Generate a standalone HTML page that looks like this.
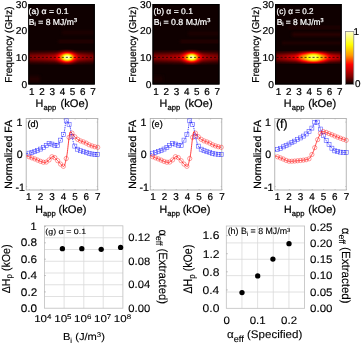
<!DOCTYPE html>
<html><head><meta charset="utf-8"><style>
html,body{margin:0;padding:0;background:#fff;width:361px;height:344px;overflow:hidden;}
svg{display:block;will-change:transform;font-family:"Liberation Sans", sans-serif;}
</style></head><body>
<svg xmlns="http://www.w3.org/2000/svg" width="361" height="344" viewBox="0 0 361 344" font-family="Liberation Sans, sans-serif" text-rendering="geometricPrecision">
<defs><filter id="hotmap" x="0" y="0" width="1" height="1" color-interpolation-filters="sRGB"><feComponentTransfer><feFuncR type="table" tableValues="0 0.333 0.667 1 1 1 1 1 1"/><feFuncG type="table" tableValues="0 0 0 0 0.333 0.667 1 1 1"/><feFuncB type="table" tableValues="0 0 0 0 0 0 0 0.5 1"/></feComponentTransfer></filter>
<filter id="bl1_2" x="-50%" y="-50%" width="200%" height="200%" color-interpolation-filters="sRGB"><feGaussianBlur stdDeviation="1.2"/></filter>
<filter id="bl1_6" x="-50%" y="-50%" width="200%" height="200%" color-interpolation-filters="sRGB"><feGaussianBlur stdDeviation="1.6"/></filter>
<filter id="bl2_0" x="-50%" y="-50%" width="200%" height="200%" color-interpolation-filters="sRGB"><feGaussianBlur stdDeviation="2.0"/></filter>
<filter id="bl2_4" x="-50%" y="-50%" width="200%" height="200%" color-interpolation-filters="sRGB"><feGaussianBlur stdDeviation="2.4"/></filter>
<filter id="bl2_8" x="-50%" y="-50%" width="200%" height="200%" color-interpolation-filters="sRGB"><feGaussianBlur stdDeviation="2.8"/></filter>
<filter id="bl3_5" x="-50%" y="-50%" width="200%" height="200%" color-interpolation-filters="sRGB"><feGaussianBlur stdDeviation="3.5"/></filter>
<linearGradient id="bg0" gradientUnits="userSpaceOnUse" x1="28.3" y1="0" x2="94.8" y2="0"><stop offset="0.000" stop-color="rgb(59,59,59)"/><stop offset="0.250" stop-color="rgb(71,71,71)"/><stop offset="0.400" stop-color="rgb(84,84,84)"/><stop offset="0.500" stop-color="rgb(107,107,107)"/><stop offset="0.580" stop-color="rgb(140,140,140)"/><stop offset="0.660" stop-color="rgb(115,115,115)"/><stop offset="0.750" stop-color="rgb(84,84,84)"/><stop offset="0.850" stop-color="rgb(69,69,69)"/><stop offset="1.000" stop-color="rgb(56,56,56)"/></linearGradient>
<clipPath id="cl0"><rect x="28.3" y="4.0" width="66.50" height="80.5"/></clipPath>
<linearGradient id="bg1" gradientUnits="userSpaceOnUse" x1="152.5" y1="0" x2="219.5" y2="0"><stop offset="0.000" stop-color="rgb(59,59,59)"/><stop offset="0.250" stop-color="rgb(71,71,71)"/><stop offset="0.400" stop-color="rgb(84,84,84)"/><stop offset="0.500" stop-color="rgb(107,107,107)"/><stop offset="0.580" stop-color="rgb(140,140,140)"/><stop offset="0.660" stop-color="rgb(115,115,115)"/><stop offset="0.750" stop-color="rgb(84,84,84)"/><stop offset="0.850" stop-color="rgb(69,69,69)"/><stop offset="1.000" stop-color="rgb(56,56,56)"/></linearGradient>
<clipPath id="cl1"><rect x="152.5" y="4.0" width="67.00" height="80.5"/></clipPath>
<linearGradient id="bg2" gradientUnits="userSpaceOnUse" x1="275.0" y1="0" x2="341.7" y2="0"><stop offset="0.000" stop-color="rgb(64,64,64)"/><stop offset="0.150" stop-color="rgb(84,84,84)"/><stop offset="0.300" stop-color="rgb(115,115,115)"/><stop offset="0.450" stop-color="rgb(153,153,153)"/><stop offset="0.580" stop-color="rgb(178,178,178)"/><stop offset="0.700" stop-color="rgb(153,153,153)"/><stop offset="0.850" stop-color="rgb(107,107,107)"/><stop offset="1.000" stop-color="rgb(84,84,84)"/></linearGradient>
<clipPath id="cl2"><rect x="275.0" y="4.0" width="66.70" height="80.5"/></clipPath>
<linearGradient id="cbar" x1="0" y1="0" x2="0" y2="1">
<stop offset="0" stop-color="#ffffd0"/>
<stop offset="0.25" stop-color="#ffff00"/>
<stop offset="0.45" stop-color="#ff9a00"/>
<stop offset="0.625" stop-color="#ff0000"/>
<stop offset="0.85" stop-color="#800000"/>
<stop offset="1" stop-color="#000000"/>
</linearGradient></defs>
<rect width="361" height="344" fill="#fff"/>
<g clip-path="url(#cl0)"><g filter="url(#hotmap)">
<rect x="18.3" y="-6.0" width="86.50" height="100.5" fill="rgb(6,6,6)"/>
<rect x="62" y="31.0" width="38" height="3" fill="rgb(13,13,13)" filter="url(#bl1_6)"/>
<rect x="58" y="40.25" width="42" height="2.5" fill="rgb(18,18,18)" filter="url(#bl1_6)"/>
<rect x="24" y="76.0" width="16" height="6" fill="rgb(13,13,13)" filter="url(#bl1_6)"/>
<rect x="25.3" y="53.87" width="72.50" height="7.0" fill="url(#bg0)" filter="url(#bl2_4)"/>
<ellipse cx="66.8" cy="57.37" rx="8.2" ry="3.8" fill="rgb(173,173,173)" filter="url(#bl2_4)"/>
<ellipse cx="67.3" cy="57.37" rx="4.3" ry="2.6" fill="rgb(247,247,247)" filter="url(#bl1_6)"/>
</g></g>
<line x1="29.8" y1="57.37" x2="94.3" y2="57.37" stroke="#000" stroke-width="0.7" stroke-dasharray="2.1 1.9"/>
<rect x="28.900000000000002" y="4.6" width="65.30" height="79.30" fill="none" stroke="#000" stroke-width="1.2"/>
<g clip-path="url(#cl1)"><g filter="url(#hotmap)">
<rect x="142.5" y="-6.0" width="87.00" height="100.5" fill="rgb(6,6,6)"/>
<rect x="188" y="32.0" width="37" height="3" fill="rgb(13,13,13)" filter="url(#bl1_6)"/>
<rect x="180" y="40.25" width="45" height="2.5" fill="rgb(18,18,18)" filter="url(#bl1_6)"/>
<rect x="149" y="76.0" width="14" height="6" fill="rgb(10,10,10)" filter="url(#bl1_6)"/>
<rect x="149.5" y="53.87" width="73.00" height="7.0" fill="url(#bg1)" filter="url(#bl2_4)"/>
<ellipse cx="191.3" cy="57.37" rx="7.8" ry="3.7" fill="rgb(173,173,173)" filter="url(#bl2_4)"/>
<ellipse cx="191.8" cy="57.37" rx="4.0" ry="2.5" fill="rgb(247,247,247)" filter="url(#bl1_6)"/>
</g></g>
<line x1="154.0" y1="57.37" x2="219.0" y2="57.37" stroke="#000" stroke-width="0.7" stroke-dasharray="2.1 1.9"/>
<rect x="153.1" y="4.6" width="65.80" height="79.30" fill="none" stroke="#000" stroke-width="1.2"/>
<g clip-path="url(#cl2)"><g filter="url(#hotmap)">
<rect x="265.0" y="-6.0" width="86.70" height="100.5" fill="rgb(6,6,6)"/>
<rect x="288" y="26.4" width="58" height="2.2" fill="rgb(15,15,15)" filter="url(#bl1_6)"/>
<rect x="292" y="33.1" width="54" height="2.8" fill="rgb(20,20,20)" filter="url(#bl1_6)"/>
<rect x="282" y="41.9" width="64" height="2.2" fill="rgb(18,18,18)" filter="url(#bl1_6)"/>
<rect x="272.0" y="54.37" width="72.70" height="6.0" fill="url(#bg2)" filter="url(#bl2_4)"/>
<ellipse cx="313.0" cy="57.37" rx="14.0" ry="3.2" fill="rgb(184,184,184)" filter="url(#bl2_4)"/>
<ellipse cx="313.5" cy="57.37" rx="6.5" ry="2.5" fill="rgb(235,235,235)" filter="url(#bl2_0)"/>
</g></g>
<line x1="276.5" y1="57.37" x2="341.2" y2="57.37" stroke="#000" stroke-width="0.7" stroke-dasharray="2.1 1.9"/>
<rect x="275.6" y="4.6" width="65.50" height="79.30" fill="none" stroke="#000" stroke-width="1.2"/>
<rect x="345.4" y="31.4" width="8.4" height="53.0" fill="url(#cbar)" stroke="#8a8a8a" stroke-width="0.8"/>
<rect x="26.2" y="118.5" width="71.5" height="71.5" fill="#fff" stroke="#b0b0b0" stroke-width="0.9"/>
<line x1="29.30" y1="190.0" x2="29.30" y2="189.0" stroke="#aaa" stroke-width="0.6"/>
<line x1="29.30" y1="118.5" x2="29.30" y2="119.5" stroke="#aaa" stroke-width="0.6"/>
<line x1="40.75" y1="190.0" x2="40.75" y2="189.0" stroke="#aaa" stroke-width="0.6"/>
<line x1="40.75" y1="118.5" x2="40.75" y2="119.5" stroke="#aaa" stroke-width="0.6"/>
<line x1="52.20" y1="190.0" x2="52.20" y2="189.0" stroke="#aaa" stroke-width="0.6"/>
<line x1="52.20" y1="118.5" x2="52.20" y2="119.5" stroke="#aaa" stroke-width="0.6"/>
<line x1="63.65" y1="190.0" x2="63.65" y2="189.0" stroke="#aaa" stroke-width="0.6"/>
<line x1="63.65" y1="118.5" x2="63.65" y2="119.5" stroke="#aaa" stroke-width="0.6"/>
<line x1="75.10" y1="190.0" x2="75.10" y2="189.0" stroke="#aaa" stroke-width="0.6"/>
<line x1="75.10" y1="118.5" x2="75.10" y2="119.5" stroke="#aaa" stroke-width="0.6"/>
<line x1="86.55" y1="190.0" x2="86.55" y2="189.0" stroke="#aaa" stroke-width="0.6"/>
<line x1="86.55" y1="118.5" x2="86.55" y2="119.5" stroke="#aaa" stroke-width="0.6"/>
<line x1="98.00" y1="190.0" x2="98.00" y2="189.0" stroke="#aaa" stroke-width="0.6"/>
<line x1="98.00" y1="118.5" x2="98.00" y2="119.5" stroke="#aaa" stroke-width="0.6"/>
<line x1="26.2" y1="122.10" x2="27.2" y2="122.10" stroke="#aaa" stroke-width="0.6"/>
<line x1="97.7" y1="122.10" x2="96.7" y2="122.10" stroke="#aaa" stroke-width="0.6"/>
<line x1="26.2" y1="154.30" x2="27.2" y2="154.30" stroke="#aaa" stroke-width="0.6"/>
<line x1="97.7" y1="154.30" x2="96.7" y2="154.30" stroke="#aaa" stroke-width="0.6"/>
<line x1="26.2" y1="186.50" x2="27.2" y2="186.50" stroke="#aaa" stroke-width="0.6"/>
<line x1="97.7" y1="186.50" x2="96.7" y2="186.50" stroke="#aaa" stroke-width="0.6"/>
<path d="M26.50,153.60 L26.74,153.57 L26.98,153.53 L27.21,153.50 L27.45,153.46 L27.69,153.42 L27.93,153.38 L28.17,153.33 L28.41,153.29 L28.64,153.24 L28.88,153.19 L29.12,153.14 L29.36,153.09 L29.60,153.04 L29.83,152.98 L30.07,152.93 L30.31,152.87 L30.55,152.81 L30.79,152.75 L31.02,152.69 L31.26,152.63 L31.50,152.56 L31.74,152.50 L31.98,152.43 L32.22,152.36 L32.45,152.29 L32.69,152.22 L32.93,152.15 L33.17,152.08 L33.41,152.01 L33.64,151.93 L33.88,151.86 L34.12,151.78 L34.36,151.71 L34.60,151.63 L34.83,151.55 L35.07,151.48 L35.31,151.40 L35.55,151.31 L35.79,151.23 L36.03,151.14 L36.26,151.05 L36.50,150.96 L36.74,150.86 L36.98,150.76 L37.22,150.66 L37.45,150.56 L37.69,150.46 L37.93,150.35 L38.17,150.24 L38.41,150.13 L38.64,150.02 L38.88,149.91 L39.12,149.79 L39.36,149.67 L39.60,149.56 L39.84,149.43 L40.07,149.31 L40.31,149.19 L40.55,149.06 L40.79,148.93 L41.03,148.81 L41.26,148.68 L41.50,148.54 L41.74,148.41 L41.98,148.28 L42.22,148.14 L42.45,148.01 L42.69,147.87 L42.93,147.73 L43.17,147.59 L43.41,147.45 L43.65,147.31 L43.88,147.17 L44.12,147.03 L44.36,146.89 L44.60,146.74 L44.84,146.60 L45.07,146.45 L45.31,146.29 L45.55,146.11 L45.79,145.91 L46.03,145.69 L46.26,145.47 L46.50,145.24 L46.74,145.01 L46.98,144.78 L47.22,144.55 L47.46,144.33 L47.69,144.12 L47.93,143.93 L48.17,143.76 L48.41,143.61 L48.65,143.48 L48.88,143.39 L49.12,143.33 L49.36,143.30 L49.60,143.31 L49.84,143.33 L50.07,143.38 L50.31,143.44 L50.55,143.51 L50.79,143.59 L51.03,143.68 L51.27,143.78 L51.50,143.88 L51.74,143.99 L51.98,144.09 L52.22,144.20 L52.46,144.30 L52.69,144.39 L52.93,144.48 L53.17,144.56 L53.41,144.65 L53.65,144.74 L53.88,144.84 L54.12,144.94 L54.36,145.04 L54.60,145.15 L54.84,145.25 L55.08,145.34 L55.31,145.44 L55.55,145.52 L55.79,145.60 L56.03,145.67 L56.27,145.72 L56.50,145.76 L56.74,145.79 L56.98,145.80 L57.22,145.75 L57.46,145.60 L57.69,145.36 L57.93,145.05 L58.17,144.67 L58.41,144.24 L58.65,143.77 L58.89,143.27 L59.12,142.76 L59.36,142.26 L59.60,141.76 L59.84,141.30 L60.08,140.87 L60.31,140.46 L60.55,140.06 L60.79,139.67 L61.03,139.27 L61.27,138.88 L61.50,138.48 L61.74,138.07 L61.98,137.65 L62.22,137.21 L62.46,136.75 L62.70,136.26 L62.93,135.75 L63.17,135.20 L63.41,134.62 L63.65,134.00 L63.89,133.34 L64.12,132.49 L64.36,131.33 L64.60,129.95 L64.84,128.42 L65.08,126.83 L65.31,125.26 L65.55,123.79 L65.79,122.51 L66.03,121.50 L66.27,120.83 L66.51,120.60 L66.74,120.64 L66.98,120.77 L67.22,120.96 L67.46,121.22 L67.70,121.55 L67.93,121.93 L68.17,122.35 L68.41,122.82 L68.65,123.33 L68.89,123.87 L69.12,124.43 L69.36,125.01 L69.60,125.60 L69.84,126.20 L70.08,126.95 L70.32,127.90 L70.55,129.00 L70.79,130.22 L71.03,131.52 L71.27,132.86 L71.51,134.19 L71.74,135.48 L71.98,136.69 L72.22,137.78 L72.46,138.72 L72.70,139.61 L72.93,140.49 L73.17,141.36 L73.41,142.21 L73.65,143.02 L73.89,143.78 L74.13,144.49 L74.36,145.12 L74.60,145.68 L74.84,146.14 L75.08,146.51 L75.32,146.84 L75.55,147.15 L75.79,147.44 L76.03,147.71 L76.27,147.96 L76.51,148.20 L76.74,148.43 L76.98,148.64 L77.22,148.84 L77.46,149.03 L77.70,149.20 L77.94,149.37 L78.17,149.52 L78.41,149.67 L78.65,149.81 L78.89,149.94 L79.13,150.07 L79.36,150.19 L79.60,150.31 L79.84,150.42 L80.08,150.53 L80.32,150.64 L80.55,150.74 L80.79,150.84 L81.03,150.93 L81.27,151.02 L81.51,151.11 L81.75,151.20 L81.98,151.28 L82.22,151.37 L82.46,151.45 L82.70,151.52 L82.94,151.60 L83.17,151.67 L83.41,151.75 L83.65,151.82 L83.89,151.89 L84.13,151.96 L84.36,152.03 L84.60,152.10 L84.84,152.17 L85.08,152.23 L85.32,152.30 L85.56,152.37 L85.79,152.44 L86.03,152.51 L86.27,152.58 L86.51,152.65 L86.75,152.72 L86.98,152.79 L87.22,152.86 L87.46,152.92 L87.70,152.99 L87.94,153.06 L88.17,153.12 L88.41,153.19 L88.65,153.25 L88.89,153.32 L89.13,153.38 L89.37,153.44 L89.60,153.50 L89.84,153.56 L90.08,153.61 L90.32,153.67 L90.56,153.72 L90.79,153.77 L91.03,153.82 L91.27,153.87 L91.51,153.91 L91.75,153.96 L91.98,154.00 L92.22,154.04 L92.46,154.07 L92.70,154.11 L92.94,154.15 L93.18,154.19 L93.41,154.22 L93.65,154.26 L93.89,154.29 L94.13,154.33 L94.37,154.36 L94.60,154.39 L94.84,154.42 L95.08,154.45 L95.32,154.48 L95.56,154.51 L95.79,154.54 L96.03,154.56 L96.27,154.59 L96.51,154.61 L96.75,154.63 L96.99,154.65 L97.22,154.67 L97.46,154.68 L97.70,154.70" fill="none" stroke="#0000ff" stroke-width="0.75" stroke-dasharray="1.4 0.9"/>
<rect x="27.06" y="151.16" width="4.0" height="4.0" fill="none" stroke="#0000ff" stroke-width="0.55" stroke-opacity="0.7"/>
<rect x="29.92" y="150.44" width="4.0" height="4.0" fill="none" stroke="#0000ff" stroke-width="0.55" stroke-opacity="0.7"/>
<rect x="32.78" y="149.57" width="4.0" height="4.0" fill="none" stroke="#0000ff" stroke-width="0.55" stroke-opacity="0.7"/>
<rect x="35.64" y="148.48" width="4.0" height="4.0" fill="none" stroke="#0000ff" stroke-width="0.55" stroke-opacity="0.7"/>
<rect x="38.50" y="147.09" width="4.0" height="4.0" fill="none" stroke="#0000ff" stroke-width="0.55" stroke-opacity="0.7"/>
<rect x="41.36" y="145.48" width="4.0" height="4.0" fill="none" stroke="#0000ff" stroke-width="0.55" stroke-opacity="0.7"/>
<rect x="44.22" y="143.51" width="4.0" height="4.0" fill="none" stroke="#0000ff" stroke-width="0.55" stroke-opacity="0.7"/>
<rect x="47.08" y="141.34" width="4.0" height="4.0" fill="none" stroke="#0000ff" stroke-width="0.55" stroke-opacity="0.7"/>
<rect x="49.94" y="142.08" width="4.0" height="4.0" fill="none" stroke="#0000ff" stroke-width="0.55" stroke-opacity="0.7"/>
<rect x="52.80" y="143.23" width="4.0" height="4.0" fill="none" stroke="#0000ff" stroke-width="0.55" stroke-opacity="0.7"/>
<rect x="55.66" y="143.40" width="4.0" height="4.0" fill="none" stroke="#0000ff" stroke-width="0.55" stroke-opacity="0.7"/>
<rect x="58.52" y="138.11" width="4.0" height="4.0" fill="none" stroke="#0000ff" stroke-width="0.55" stroke-opacity="0.7"/>
<rect x="61.38" y="132.70" width="4.0" height="4.0" fill="none" stroke="#0000ff" stroke-width="0.55" stroke-opacity="0.7"/>
<rect x="64.24" y="118.89" width="4.0" height="4.0" fill="none" stroke="#0000ff" stroke-width="0.55" stroke-opacity="0.7"/>
<rect x="67.10" y="122.37" width="4.0" height="4.0" fill="none" stroke="#0000ff" stroke-width="0.55" stroke-opacity="0.7"/>
<rect x="69.96" y="134.58" width="4.0" height="4.0" fill="none" stroke="#0000ff" stroke-width="0.55" stroke-opacity="0.7"/>
<rect x="72.82" y="144.11" width="4.0" height="4.0" fill="none" stroke="#0000ff" stroke-width="0.55" stroke-opacity="0.7"/>
<rect x="75.68" y="147.19" width="4.0" height="4.0" fill="none" stroke="#0000ff" stroke-width="0.55" stroke-opacity="0.7"/>
<rect x="78.54" y="148.73" width="4.0" height="4.0" fill="none" stroke="#0000ff" stroke-width="0.55" stroke-opacity="0.7"/>
<rect x="81.40" y="149.74" width="4.0" height="4.0" fill="none" stroke="#0000ff" stroke-width="0.55" stroke-opacity="0.7"/>
<rect x="84.26" y="150.58" width="4.0" height="4.0" fill="none" stroke="#0000ff" stroke-width="0.55" stroke-opacity="0.7"/>
<rect x="87.12" y="151.38" width="4.0" height="4.0" fill="none" stroke="#0000ff" stroke-width="0.55" stroke-opacity="0.7"/>
<rect x="89.98" y="152.00" width="4.0" height="4.0" fill="none" stroke="#0000ff" stroke-width="0.55" stroke-opacity="0.7"/>
<rect x="92.84" y="152.42" width="4.0" height="4.0" fill="none" stroke="#0000ff" stroke-width="0.55" stroke-opacity="0.7"/>
<rect x="95.70" y="152.70" width="4.0" height="4.0" fill="none" stroke="#0000ff" stroke-width="0.55" stroke-opacity="0.7"/>
<path d="M26.50,155.80 L26.74,155.89 L26.98,155.99 L27.21,156.08 L27.45,156.17 L27.69,156.27 L27.93,156.36 L28.17,156.45 L28.41,156.54 L28.64,156.63 L28.88,156.73 L29.12,156.82 L29.36,156.91 L29.60,157.00 L29.83,157.09 L30.07,157.18 L30.31,157.27 L30.55,157.36 L30.79,157.45 L31.02,157.54 L31.26,157.63 L31.50,157.72 L31.74,157.81 L31.98,157.90 L32.22,157.99 L32.45,158.07 L32.69,158.16 L32.93,158.25 L33.17,158.34 L33.41,158.42 L33.64,158.51 L33.88,158.60 L34.12,158.68 L34.36,158.77 L34.60,158.86 L34.83,158.94 L35.07,159.03 L35.31,159.11 L35.55,159.21 L35.79,159.30 L36.03,159.40 L36.26,159.49 L36.50,159.59 L36.74,159.70 L36.98,159.80 L37.22,159.91 L37.45,160.01 L37.69,160.12 L37.93,160.23 L38.17,160.34 L38.41,160.44 L38.64,160.55 L38.88,160.66 L39.12,160.77 L39.36,160.87 L39.60,160.98 L39.84,161.08 L40.07,161.18 L40.31,161.28 L40.55,161.37 L40.79,161.47 L41.03,161.56 L41.26,161.64 L41.50,161.73 L41.74,161.81 L41.98,161.88 L42.22,161.96 L42.45,162.02 L42.69,162.09 L42.93,162.15 L43.17,162.20 L43.41,162.24 L43.65,162.29 L43.88,162.32 L44.12,162.35 L44.36,162.37 L44.60,162.39 L44.84,162.40 L45.07,162.40 L45.31,162.38 L45.55,162.32 L45.79,162.25 L46.03,162.15 L46.26,162.04 L46.50,161.90 L46.74,161.75 L46.98,161.59 L47.22,161.41 L47.46,161.23 L47.69,161.04 L47.93,160.85 L48.17,160.66 L48.41,160.46 L48.65,160.27 L48.88,160.09 L49.12,159.90 L49.36,159.69 L49.60,159.43 L49.84,159.16 L50.07,158.86 L50.31,158.56 L50.55,158.24 L50.79,157.93 L51.03,157.63 L51.27,157.35 L51.50,157.09 L51.74,156.86 L51.98,156.67 L52.22,156.53 L52.46,156.43 L52.69,156.40 L52.93,156.42 L53.17,156.48 L53.41,156.57 L53.65,156.69 L53.88,156.84 L54.12,157.02 L54.36,157.22 L54.60,157.44 L54.84,157.67 L55.08,157.92 L55.31,158.17 L55.55,158.44 L55.79,158.70 L56.03,158.97 L56.27,159.24 L56.50,159.49 L56.74,159.74 L56.98,159.98 L57.22,160.22 L57.46,160.47 L57.69,160.73 L57.93,161.01 L58.17,161.29 L58.41,161.58 L58.65,161.88 L58.89,162.17 L59.12,162.47 L59.36,162.76 L59.60,163.04 L59.84,163.32 L60.08,163.59 L60.31,163.85 L60.55,164.09 L60.79,164.32 L61.03,164.52 L61.27,164.73 L61.50,164.95 L61.74,165.16 L61.98,165.38 L62.22,165.59 L62.46,165.79 L62.70,165.97 L62.93,166.12 L63.17,166.25 L63.41,166.34 L63.65,166.39 L63.89,166.38 L64.12,166.19 L64.36,165.80 L64.60,165.24 L64.84,164.52 L65.08,163.67 L65.31,162.72 L65.55,161.70 L65.79,160.62 L66.03,159.52 L66.27,158.41 L66.51,157.32 L66.74,156.21 L66.98,154.83 L67.22,153.21 L67.46,151.39 L67.70,149.42 L67.93,147.34 L68.17,145.22 L68.41,143.10 L68.65,141.02 L68.89,139.04 L69.12,137.20 L69.36,135.56 L69.60,134.17 L69.84,133.06 L70.08,132.30 L70.32,131.93 L70.55,131.92 L70.79,132.00 L71.03,132.14 L71.27,132.35 L71.51,132.60 L71.74,132.88 L71.98,133.20 L72.22,133.54 L72.46,133.90 L72.70,134.26 L72.93,134.62 L73.17,134.98 L73.41,135.31 L73.65,135.61 L73.89,135.89 L74.13,136.12 L74.36,136.35 L74.60,136.58 L74.84,136.81 L75.08,137.04 L75.32,137.27 L75.55,137.49 L75.79,137.71 L76.03,137.93 L76.27,138.15 L76.51,138.36 L76.74,138.56 L76.98,138.76 L77.22,138.96 L77.46,139.15 L77.70,139.33 L77.94,139.51 L78.17,139.67 L78.41,139.83 L78.65,139.99 L78.89,140.13 L79.13,140.26 L79.36,140.38 L79.60,140.50 L79.84,140.61 L80.08,140.72 L80.32,140.82 L80.55,140.91 L80.79,141.01 L81.03,141.09 L81.27,141.18 L81.51,141.26 L81.75,141.34 L81.98,141.42 L82.22,141.50 L82.46,141.58 L82.70,141.65 L82.94,141.73 L83.17,141.81 L83.41,141.89 L83.65,141.97 L83.89,142.06 L84.13,142.14 L84.36,142.24 L84.60,142.33 L84.84,142.43 L85.08,142.54 L85.32,142.65 L85.56,142.76 L85.79,142.89 L86.03,143.01 L86.27,143.15 L86.51,143.28 L86.75,143.42 L86.98,143.56 L87.22,143.70 L87.46,143.84 L87.70,143.98 L87.94,144.12 L88.17,144.26 L88.41,144.39 L88.65,144.53 L88.89,144.66 L89.13,144.78 L89.37,144.90 L89.60,145.01 L89.84,145.12 L90.08,145.22 L90.32,145.31 L90.56,145.39 L90.79,145.48 L91.03,145.56 L91.27,145.65 L91.51,145.73 L91.75,145.81 L91.98,145.89 L92.22,145.97 L92.46,146.05 L92.70,146.13 L92.94,146.21 L93.18,146.28 L93.41,146.35 L93.65,146.42 L93.89,146.49 L94.13,146.56 L94.37,146.63 L94.60,146.69 L94.84,146.75 L95.08,146.81 L95.32,146.87 L95.56,146.92 L95.79,146.98 L96.03,147.03 L96.27,147.07 L96.51,147.12 L96.75,147.16 L96.99,147.20 L97.22,147.24 L97.46,147.27 L97.70,147.30" fill="none" stroke="#ff0000" stroke-width="0.75"/>
<circle cx="29.06" cy="156.79" r="2.15" fill="none" stroke="#ff0000" stroke-width="0.55" stroke-opacity="0.7"/>
<circle cx="31.92" cy="157.88" r="2.15" fill="none" stroke="#ff0000" stroke-width="0.55" stroke-opacity="0.7"/>
<circle cx="34.78" cy="158.92" r="2.15" fill="none" stroke="#ff0000" stroke-width="0.55" stroke-opacity="0.7"/>
<circle cx="37.64" cy="160.10" r="2.15" fill="none" stroke="#ff0000" stroke-width="0.55" stroke-opacity="0.7"/>
<circle cx="40.50" cy="161.35" r="2.15" fill="none" stroke="#ff0000" stroke-width="0.55" stroke-opacity="0.7"/>
<circle cx="43.36" cy="162.24" r="2.15" fill="none" stroke="#ff0000" stroke-width="0.55" stroke-opacity="0.7"/>
<circle cx="46.22" cy="162.06" r="2.15" fill="none" stroke="#ff0000" stroke-width="0.55" stroke-opacity="0.7"/>
<circle cx="49.08" cy="159.94" r="2.15" fill="none" stroke="#ff0000" stroke-width="0.55" stroke-opacity="0.7"/>
<circle cx="51.94" cy="156.70" r="2.15" fill="none" stroke="#ff0000" stroke-width="0.55" stroke-opacity="0.7"/>
<circle cx="54.80" cy="157.63" r="2.15" fill="none" stroke="#ff0000" stroke-width="0.55" stroke-opacity="0.7"/>
<circle cx="57.66" cy="160.69" r="2.15" fill="none" stroke="#ff0000" stroke-width="0.55" stroke-opacity="0.7"/>
<circle cx="60.52" cy="164.06" r="2.15" fill="none" stroke="#ff0000" stroke-width="0.55" stroke-opacity="0.7"/>
<circle cx="63.38" cy="166.33" r="2.15" fill="none" stroke="#ff0000" stroke-width="0.55" stroke-opacity="0.7"/>
<circle cx="66.24" cy="158.54" r="2.15" fill="none" stroke="#ff0000" stroke-width="0.55" stroke-opacity="0.7"/>
<circle cx="69.10" cy="137.39" r="2.15" fill="none" stroke="#ff0000" stroke-width="0.55" stroke-opacity="0.7"/>
<circle cx="71.96" cy="133.17" r="2.15" fill="none" stroke="#ff0000" stroke-width="0.55" stroke-opacity="0.7"/>
<circle cx="74.82" cy="136.79" r="2.15" fill="none" stroke="#ff0000" stroke-width="0.55" stroke-opacity="0.7"/>
<circle cx="77.68" cy="139.32" r="2.15" fill="none" stroke="#ff0000" stroke-width="0.55" stroke-opacity="0.7"/>
<circle cx="80.54" cy="140.91" r="2.15" fill="none" stroke="#ff0000" stroke-width="0.55" stroke-opacity="0.7"/>
<circle cx="83.40" cy="141.89" r="2.15" fill="none" stroke="#ff0000" stroke-width="0.55" stroke-opacity="0.7"/>
<circle cx="86.26" cy="143.14" r="2.15" fill="none" stroke="#ff0000" stroke-width="0.55" stroke-opacity="0.7"/>
<circle cx="89.12" cy="144.78" r="2.15" fill="none" stroke="#ff0000" stroke-width="0.55" stroke-opacity="0.7"/>
<circle cx="91.98" cy="145.89" r="2.15" fill="none" stroke="#ff0000" stroke-width="0.55" stroke-opacity="0.7"/>
<circle cx="94.84" cy="146.75" r="2.15" fill="none" stroke="#ff0000" stroke-width="0.55" stroke-opacity="0.7"/>
<circle cx="97.70" cy="147.30" r="2.15" fill="none" stroke="#ff0000" stroke-width="0.55" stroke-opacity="0.7"/>
<rect x="150.25" y="118.5" width="71.5" height="71.5" fill="#fff" stroke="#b0b0b0" stroke-width="0.9"/>
<line x1="153.35" y1="190.0" x2="153.35" y2="189.0" stroke="#aaa" stroke-width="0.6"/>
<line x1="153.35" y1="118.5" x2="153.35" y2="119.5" stroke="#aaa" stroke-width="0.6"/>
<line x1="164.80" y1="190.0" x2="164.80" y2="189.0" stroke="#aaa" stroke-width="0.6"/>
<line x1="164.80" y1="118.5" x2="164.80" y2="119.5" stroke="#aaa" stroke-width="0.6"/>
<line x1="176.25" y1="190.0" x2="176.25" y2="189.0" stroke="#aaa" stroke-width="0.6"/>
<line x1="176.25" y1="118.5" x2="176.25" y2="119.5" stroke="#aaa" stroke-width="0.6"/>
<line x1="187.70" y1="190.0" x2="187.70" y2="189.0" stroke="#aaa" stroke-width="0.6"/>
<line x1="187.70" y1="118.5" x2="187.70" y2="119.5" stroke="#aaa" stroke-width="0.6"/>
<line x1="199.15" y1="190.0" x2="199.15" y2="189.0" stroke="#aaa" stroke-width="0.6"/>
<line x1="199.15" y1="118.5" x2="199.15" y2="119.5" stroke="#aaa" stroke-width="0.6"/>
<line x1="210.60" y1="190.0" x2="210.60" y2="189.0" stroke="#aaa" stroke-width="0.6"/>
<line x1="210.60" y1="118.5" x2="210.60" y2="119.5" stroke="#aaa" stroke-width="0.6"/>
<line x1="222.05" y1="190.0" x2="222.05" y2="189.0" stroke="#aaa" stroke-width="0.6"/>
<line x1="222.05" y1="118.5" x2="222.05" y2="119.5" stroke="#aaa" stroke-width="0.6"/>
<line x1="150.25" y1="122.10" x2="151.25" y2="122.10" stroke="#aaa" stroke-width="0.6"/>
<line x1="221.75" y1="122.10" x2="220.75" y2="122.10" stroke="#aaa" stroke-width="0.6"/>
<line x1="150.25" y1="154.30" x2="151.25" y2="154.30" stroke="#aaa" stroke-width="0.6"/>
<line x1="221.75" y1="154.30" x2="220.75" y2="154.30" stroke="#aaa" stroke-width="0.6"/>
<line x1="150.25" y1="186.50" x2="151.25" y2="186.50" stroke="#aaa" stroke-width="0.6"/>
<line x1="221.75" y1="186.50" x2="220.75" y2="186.50" stroke="#aaa" stroke-width="0.6"/>
<path d="M150.55,153.60 L150.79,153.56 L151.02,153.52 L151.26,153.48 L151.50,153.43 L151.73,153.39 L151.97,153.34 L152.20,153.29 L152.44,153.24 L152.68,153.19 L152.91,153.14 L153.15,153.08 L153.39,153.02 L153.62,152.97 L153.86,152.91 L154.09,152.85 L154.33,152.78 L154.57,152.72 L154.80,152.65 L155.04,152.59 L155.28,152.52 L155.51,152.45 L155.75,152.38 L155.98,152.31 L156.22,152.24 L156.46,152.17 L156.69,152.09 L156.93,152.02 L157.17,151.94 L157.40,151.87 L157.64,151.79 L157.87,151.71 L158.11,151.63 L158.35,151.55 L158.58,151.47 L158.82,151.39 L159.06,151.30 L159.29,151.22 L159.53,151.13 L159.77,151.04 L160.00,150.94 L160.24,150.85 L160.47,150.75 L160.71,150.65 L160.95,150.55 L161.18,150.44 L161.42,150.34 L161.66,150.23 L161.89,150.12 L162.13,150.01 L162.36,149.90 L162.60,149.78 L162.84,149.67 L163.07,149.55 L163.31,149.43 L163.55,149.31 L163.78,149.19 L164.02,149.06 L164.25,148.94 L164.49,148.81 L164.73,148.68 L164.96,148.55 L165.20,148.42 L165.44,148.29 L165.67,148.16 L165.91,148.03 L166.14,147.89 L166.38,147.76 L166.62,147.62 L166.85,147.48 L167.09,147.34 L167.33,147.20 L167.56,147.06 L167.80,146.92 L168.04,146.78 L168.27,146.64 L168.51,146.50 L168.74,146.34 L168.98,146.16 L169.22,145.97 L169.45,145.76 L169.69,145.54 L169.93,145.31 L170.16,145.08 L170.40,144.85 L170.63,144.63 L170.87,144.41 L171.11,144.20 L171.34,144.00 L171.58,143.82 L171.82,143.66 L172.05,143.53 L172.29,143.42 L172.52,143.35 L172.76,143.31 L173.00,143.30 L173.23,143.32 L173.47,143.36 L173.71,143.41 L173.94,143.47 L174.18,143.55 L174.42,143.64 L174.65,143.73 L174.89,143.83 L175.12,143.94 L175.36,144.04 L175.60,144.14 L175.83,144.25 L176.07,144.34 L176.31,144.43 L176.54,144.51 L176.78,144.60 L177.01,144.69 L177.25,144.78 L177.49,144.88 L177.72,144.98 L177.96,145.09 L178.20,145.19 L178.43,145.29 L178.67,145.38 L178.90,145.47 L179.14,145.55 L179.38,145.62 L179.61,145.69 L179.85,145.74 L180.09,145.77 L180.32,145.80 L180.56,145.80 L180.79,145.72 L181.03,145.54 L181.27,145.28 L181.50,144.94 L181.74,144.55 L181.98,144.11 L182.21,143.63 L182.45,143.14 L182.69,142.63 L182.92,142.13 L183.16,141.65 L183.39,141.19 L183.63,140.77 L183.87,140.37 L184.10,139.97 L184.34,139.58 L184.58,139.20 L184.81,138.80 L185.05,138.41 L185.28,138.00 L185.52,137.58 L185.76,137.14 L185.99,136.68 L186.23,136.19 L186.47,135.68 L186.70,135.13 L186.94,134.55 L187.17,133.93 L187.41,133.27 L187.65,132.39 L187.88,131.22 L188.12,129.83 L188.36,128.31 L188.59,126.73 L188.83,125.17 L189.06,123.72 L189.30,122.46 L189.54,121.47 L189.77,120.82 L190.01,120.60 L190.25,120.64 L190.48,120.77 L190.72,120.96 L190.96,121.22 L191.19,121.54 L191.43,121.92 L191.66,122.34 L191.90,122.80 L192.14,123.30 L192.37,123.83 L192.61,124.39 L192.85,124.96 L193.08,125.55 L193.32,126.15 L193.55,126.87 L193.79,127.79 L194.03,128.87 L194.26,130.07 L194.50,131.35 L194.74,132.67 L194.97,134.00 L195.21,135.29 L195.44,136.51 L195.68,137.61 L195.92,138.56 L196.15,139.44 L196.39,140.32 L196.63,141.19 L196.86,142.04 L197.10,142.85 L197.33,143.62 L197.57,144.33 L197.81,144.98 L198.04,145.55 L198.28,146.04 L198.52,146.42 L198.75,146.75 L198.99,147.06 L199.23,147.36 L199.46,147.63 L199.70,147.89 L199.93,148.13 L200.17,148.36 L200.41,148.58 L200.64,148.78 L200.88,148.96 L201.12,149.14 L201.35,149.31 L201.59,149.47 L201.82,149.62 L202.06,149.76 L202.30,149.89 L202.53,150.02 L202.77,150.14 L203.01,150.26 L203.24,150.37 L203.48,150.48 L203.71,150.59 L203.95,150.69 L204.19,150.79 L204.42,150.89 L204.66,150.98 L204.90,151.07 L205.13,151.16 L205.37,151.24 L205.61,151.33 L205.84,151.41 L206.08,151.48 L206.31,151.56 L206.55,151.64 L206.79,151.71 L207.02,151.78 L207.26,151.85 L207.50,151.92 L207.73,151.99 L207.97,152.06 L208.20,152.13 L208.44,152.19 L208.68,152.26 L208.91,152.33 L209.15,152.40 L209.39,152.47 L209.62,152.54 L209.86,152.60 L210.09,152.67 L210.33,152.74 L210.57,152.81 L210.80,152.88 L211.04,152.95 L211.28,153.01 L211.51,153.08 L211.75,153.14 L211.98,153.21 L212.22,153.27 L212.46,153.34 L212.69,153.40 L212.93,153.46 L213.17,153.52 L213.40,153.57 L213.64,153.63 L213.88,153.68 L214.11,153.73 L214.35,153.78 L214.58,153.83 L214.82,153.88 L215.06,153.92 L215.29,153.97 L215.53,154.00 L215.77,154.04 L216.00,154.08 L216.24,154.12 L216.47,154.16 L216.71,154.19 L216.95,154.23 L217.18,154.26 L217.42,154.30 L217.66,154.33 L217.89,154.36 L218.13,154.39 L218.36,154.43 L218.60,154.46 L218.84,154.48 L219.07,154.51 L219.31,154.54 L219.55,154.56 L219.78,154.59 L220.02,154.61 L220.25,154.63 L220.49,154.65 L220.73,154.67 L220.96,154.68 L221.20,154.70" fill="none" stroke="#0000ff" stroke-width="0.75" stroke-dasharray="1.4 0.9"/>
<rect x="150.56" y="151.22" width="4.0" height="4.0" fill="none" stroke="#0000ff" stroke-width="0.55" stroke-opacity="0.7"/>
<rect x="153.42" y="150.48" width="4.0" height="4.0" fill="none" stroke="#0000ff" stroke-width="0.55" stroke-opacity="0.7"/>
<rect x="156.28" y="149.57" width="4.0" height="4.0" fill="none" stroke="#0000ff" stroke-width="0.55" stroke-opacity="0.7"/>
<rect x="159.14" y="148.46" width="4.0" height="4.0" fill="none" stroke="#0000ff" stroke-width="0.55" stroke-opacity="0.7"/>
<rect x="162.00" y="147.07" width="4.0" height="4.0" fill="none" stroke="#0000ff" stroke-width="0.55" stroke-opacity="0.7"/>
<rect x="164.86" y="145.48" width="4.0" height="4.0" fill="none" stroke="#0000ff" stroke-width="0.55" stroke-opacity="0.7"/>
<rect x="167.72" y="143.51" width="4.0" height="4.0" fill="none" stroke="#0000ff" stroke-width="0.55" stroke-opacity="0.7"/>
<rect x="170.58" y="141.34" width="4.0" height="4.0" fill="none" stroke="#0000ff" stroke-width="0.55" stroke-opacity="0.7"/>
<rect x="173.44" y="142.08" width="4.0" height="4.0" fill="none" stroke="#0000ff" stroke-width="0.55" stroke-opacity="0.7"/>
<rect x="176.30" y="143.23" width="4.0" height="4.0" fill="none" stroke="#0000ff" stroke-width="0.55" stroke-opacity="0.7"/>
<rect x="179.16" y="143.40" width="4.0" height="4.0" fill="none" stroke="#0000ff" stroke-width="0.55" stroke-opacity="0.7"/>
<rect x="182.02" y="138.11" width="4.0" height="4.0" fill="none" stroke="#0000ff" stroke-width="0.55" stroke-opacity="0.7"/>
<rect x="184.88" y="132.70" width="4.0" height="4.0" fill="none" stroke="#0000ff" stroke-width="0.55" stroke-opacity="0.7"/>
<rect x="187.74" y="118.89" width="4.0" height="4.0" fill="none" stroke="#0000ff" stroke-width="0.55" stroke-opacity="0.7"/>
<rect x="190.60" y="122.37" width="4.0" height="4.0" fill="none" stroke="#0000ff" stroke-width="0.55" stroke-opacity="0.7"/>
<rect x="193.46" y="134.58" width="4.0" height="4.0" fill="none" stroke="#0000ff" stroke-width="0.55" stroke-opacity="0.7"/>
<rect x="196.32" y="144.11" width="4.0" height="4.0" fill="none" stroke="#0000ff" stroke-width="0.55" stroke-opacity="0.7"/>
<rect x="199.18" y="147.19" width="4.0" height="4.0" fill="none" stroke="#0000ff" stroke-width="0.55" stroke-opacity="0.7"/>
<rect x="202.04" y="148.73" width="4.0" height="4.0" fill="none" stroke="#0000ff" stroke-width="0.55" stroke-opacity="0.7"/>
<rect x="204.90" y="149.74" width="4.0" height="4.0" fill="none" stroke="#0000ff" stroke-width="0.55" stroke-opacity="0.7"/>
<rect x="207.76" y="150.58" width="4.0" height="4.0" fill="none" stroke="#0000ff" stroke-width="0.55" stroke-opacity="0.7"/>
<rect x="210.62" y="151.38" width="4.0" height="4.0" fill="none" stroke="#0000ff" stroke-width="0.55" stroke-opacity="0.7"/>
<rect x="213.48" y="152.00" width="4.0" height="4.0" fill="none" stroke="#0000ff" stroke-width="0.55" stroke-opacity="0.7"/>
<rect x="216.34" y="152.42" width="4.0" height="4.0" fill="none" stroke="#0000ff" stroke-width="0.55" stroke-opacity="0.7"/>
<rect x="219.20" y="152.70" width="4.0" height="4.0" fill="none" stroke="#0000ff" stroke-width="0.55" stroke-opacity="0.7"/>
<path d="M150.55,155.80 L150.79,155.90 L151.02,156.00 L151.26,156.10 L151.50,156.20 L151.73,156.30 L151.97,156.40 L152.20,156.50 L152.44,156.60 L152.68,156.70 L152.91,156.80 L153.15,156.90 L153.39,157.00 L153.62,157.09 L153.86,157.19 L154.09,157.29 L154.33,157.38 L154.57,157.48 L154.80,157.57 L155.04,157.67 L155.28,157.76 L155.51,157.85 L155.75,157.95 L155.98,158.04 L156.22,158.13 L156.46,158.23 L156.69,158.32 L156.93,158.41 L157.17,158.50 L157.40,158.59 L157.64,158.68 L157.87,158.77 L158.11,158.86 L158.35,158.94 L158.58,159.03 L158.82,159.12 L159.06,159.21 L159.29,159.31 L159.53,159.41 L159.77,159.51 L160.00,159.61 L160.24,159.71 L160.47,159.82 L160.71,159.92 L160.95,160.03 L161.18,160.13 L161.42,160.24 L161.66,160.35 L161.89,160.46 L162.13,160.56 L162.36,160.67 L162.60,160.77 L162.84,160.88 L163.07,160.98 L163.31,161.08 L163.55,161.18 L163.78,161.28 L164.02,161.37 L164.25,161.47 L164.49,161.55 L164.73,161.64 L164.96,161.72 L165.20,161.80 L165.44,161.88 L165.67,161.95 L165.91,162.02 L166.14,162.08 L166.38,162.14 L166.62,162.19 L166.85,162.24 L167.09,162.28 L167.33,162.32 L167.56,162.35 L167.80,162.37 L168.04,162.39 L168.27,162.40 L168.51,162.40 L168.74,162.38 L168.98,162.34 L169.22,162.27 L169.45,162.18 L169.69,162.07 L169.93,161.95 L170.16,161.80 L170.40,161.64 L170.63,161.47 L170.87,161.30 L171.11,161.11 L171.34,160.92 L171.58,160.73 L171.82,160.54 L172.05,160.35 L172.29,160.16 L172.52,159.98 L172.76,159.78 L173.00,159.54 L173.23,159.28 L173.47,158.99 L173.71,158.69 L173.94,158.39 L174.18,158.08 L174.42,157.77 L174.65,157.48 L174.89,157.21 L175.12,156.97 L175.36,156.76 L175.60,156.59 L175.83,156.47 L176.07,156.41 L176.31,156.40 L176.54,156.44 L176.78,156.51 L177.01,156.62 L177.25,156.75 L177.49,156.91 L177.72,157.10 L177.96,157.31 L178.20,157.53 L178.43,157.77 L178.67,158.02 L178.90,158.27 L179.14,158.54 L179.38,158.80 L179.61,159.07 L179.85,159.33 L180.09,159.58 L180.32,159.82 L180.56,160.06 L180.79,160.30 L181.03,160.55 L181.27,160.82 L181.50,161.09 L181.74,161.38 L181.98,161.66 L182.21,161.96 L182.45,162.25 L182.69,162.54 L182.92,162.83 L183.16,163.11 L183.39,163.39 L183.63,163.65 L183.87,163.90 L184.10,164.14 L184.34,164.36 L184.58,164.56 L184.81,164.77 L185.05,164.99 L185.28,165.20 L185.52,165.42 L185.76,165.62 L185.99,165.82 L186.23,165.99 L186.47,166.14 L186.70,166.26 L186.94,166.35 L187.17,166.39 L187.41,166.38 L187.65,166.16 L187.88,165.76 L188.12,165.18 L188.36,164.46 L188.59,163.61 L188.83,162.67 L189.06,161.65 L189.30,160.58 L189.54,159.48 L189.77,158.38 L190.01,157.30 L190.25,156.20 L190.48,154.83 L190.72,153.22 L190.96,151.41 L191.19,149.45 L191.43,147.40 L191.66,145.29 L191.90,143.19 L192.14,141.12 L192.37,139.15 L192.61,137.32 L192.85,135.68 L193.08,134.27 L193.32,133.15 L193.55,132.36 L193.79,131.95 L194.03,131.91 L194.26,131.98 L194.50,132.12 L194.74,132.32 L194.97,132.56 L195.21,132.84 L195.44,133.15 L195.68,133.49 L195.92,133.84 L196.15,134.20 L196.39,134.56 L196.63,134.91 L196.86,135.24 L197.10,135.55 L197.33,135.83 L197.57,136.07 L197.81,136.30 L198.04,136.53 L198.28,136.75 L198.52,136.98 L198.75,137.21 L198.99,137.43 L199.23,137.65 L199.46,137.87 L199.70,138.08 L199.93,138.29 L200.17,138.50 L200.41,138.70 L200.64,138.90 L200.88,139.09 L201.12,139.27 L201.35,139.45 L201.59,139.62 L201.82,139.78 L202.06,139.93 L202.30,140.07 L202.53,140.21 L202.77,140.34 L203.01,140.45 L203.24,140.57 L203.48,140.67 L203.71,140.78 L203.95,140.87 L204.19,140.96 L204.42,141.05 L204.66,141.14 L204.90,141.22 L205.13,141.30 L205.37,141.38 L205.61,141.46 L205.84,141.54 L206.08,141.61 L206.31,141.69 L206.55,141.77 L206.79,141.85 L207.02,141.93 L207.26,142.01 L207.50,142.10 L207.73,142.18 L207.97,142.28 L208.20,142.37 L208.44,142.47 L208.68,142.58 L208.91,142.69 L209.15,142.81 L209.39,142.94 L209.62,143.06 L209.86,143.20 L210.09,143.33 L210.33,143.47 L210.57,143.61 L210.80,143.75 L211.04,143.89 L211.28,144.03 L211.51,144.16 L211.75,144.30 L211.98,144.43 L212.22,144.57 L212.46,144.69 L212.69,144.81 L212.93,144.93 L213.17,145.04 L213.40,145.14 L213.64,145.24 L213.88,145.33 L214.11,145.41 L214.35,145.50 L214.58,145.58 L214.82,145.67 L215.06,145.75 L215.29,145.83 L215.53,145.91 L215.77,145.99 L216.00,146.07 L216.24,146.14 L216.47,146.22 L216.71,146.29 L216.95,146.36 L217.18,146.43 L217.42,146.50 L217.66,146.57 L217.89,146.63 L218.13,146.70 L218.36,146.76 L218.60,146.82 L218.84,146.87 L219.07,146.93 L219.31,146.98 L219.55,147.03 L219.78,147.08 L220.02,147.12 L220.25,147.16 L220.49,147.20 L220.73,147.24 L220.96,147.27 L221.20,147.30" fill="none" stroke="#ff0000" stroke-width="0.75"/>
<circle cx="152.56" cy="156.65" r="2.15" fill="none" stroke="#ff0000" stroke-width="0.55" stroke-opacity="0.7"/>
<circle cx="155.42" cy="157.82" r="2.15" fill="none" stroke="#ff0000" stroke-width="0.55" stroke-opacity="0.7"/>
<circle cx="158.28" cy="158.92" r="2.15" fill="none" stroke="#ff0000" stroke-width="0.55" stroke-opacity="0.7"/>
<circle cx="161.14" cy="160.11" r="2.15" fill="none" stroke="#ff0000" stroke-width="0.55" stroke-opacity="0.7"/>
<circle cx="164.00" cy="161.37" r="2.15" fill="none" stroke="#ff0000" stroke-width="0.55" stroke-opacity="0.7"/>
<circle cx="166.86" cy="162.24" r="2.15" fill="none" stroke="#ff0000" stroke-width="0.55" stroke-opacity="0.7"/>
<circle cx="169.72" cy="162.06" r="2.15" fill="none" stroke="#ff0000" stroke-width="0.55" stroke-opacity="0.7"/>
<circle cx="172.58" cy="159.94" r="2.15" fill="none" stroke="#ff0000" stroke-width="0.55" stroke-opacity="0.7"/>
<circle cx="175.44" cy="156.70" r="2.15" fill="none" stroke="#ff0000" stroke-width="0.55" stroke-opacity="0.7"/>
<circle cx="178.30" cy="157.63" r="2.15" fill="none" stroke="#ff0000" stroke-width="0.55" stroke-opacity="0.7"/>
<circle cx="181.16" cy="160.69" r="2.15" fill="none" stroke="#ff0000" stroke-width="0.55" stroke-opacity="0.7"/>
<circle cx="184.02" cy="164.06" r="2.15" fill="none" stroke="#ff0000" stroke-width="0.55" stroke-opacity="0.7"/>
<circle cx="186.88" cy="166.33" r="2.15" fill="none" stroke="#ff0000" stroke-width="0.55" stroke-opacity="0.7"/>
<circle cx="189.74" cy="158.54" r="2.15" fill="none" stroke="#ff0000" stroke-width="0.55" stroke-opacity="0.7"/>
<circle cx="192.60" cy="137.39" r="2.15" fill="none" stroke="#ff0000" stroke-width="0.55" stroke-opacity="0.7"/>
<circle cx="195.46" cy="133.17" r="2.15" fill="none" stroke="#ff0000" stroke-width="0.55" stroke-opacity="0.7"/>
<circle cx="198.32" cy="136.79" r="2.15" fill="none" stroke="#ff0000" stroke-width="0.55" stroke-opacity="0.7"/>
<circle cx="201.18" cy="139.32" r="2.15" fill="none" stroke="#ff0000" stroke-width="0.55" stroke-opacity="0.7"/>
<circle cx="204.04" cy="140.91" r="2.15" fill="none" stroke="#ff0000" stroke-width="0.55" stroke-opacity="0.7"/>
<circle cx="206.90" cy="141.89" r="2.15" fill="none" stroke="#ff0000" stroke-width="0.55" stroke-opacity="0.7"/>
<circle cx="209.76" cy="143.14" r="2.15" fill="none" stroke="#ff0000" stroke-width="0.55" stroke-opacity="0.7"/>
<circle cx="212.62" cy="144.78" r="2.15" fill="none" stroke="#ff0000" stroke-width="0.55" stroke-opacity="0.7"/>
<circle cx="215.48" cy="145.89" r="2.15" fill="none" stroke="#ff0000" stroke-width="0.55" stroke-opacity="0.7"/>
<circle cx="218.34" cy="146.75" r="2.15" fill="none" stroke="#ff0000" stroke-width="0.55" stroke-opacity="0.7"/>
<circle cx="221.20" cy="147.30" r="2.15" fill="none" stroke="#ff0000" stroke-width="0.55" stroke-opacity="0.7"/>
<rect x="274.75" y="118.5" width="71.5" height="71.5" fill="#fff" stroke="#b0b0b0" stroke-width="0.9"/>
<line x1="277.85" y1="190.0" x2="277.85" y2="189.0" stroke="#aaa" stroke-width="0.6"/>
<line x1="277.85" y1="118.5" x2="277.85" y2="119.5" stroke="#aaa" stroke-width="0.6"/>
<line x1="289.30" y1="190.0" x2="289.30" y2="189.0" stroke="#aaa" stroke-width="0.6"/>
<line x1="289.30" y1="118.5" x2="289.30" y2="119.5" stroke="#aaa" stroke-width="0.6"/>
<line x1="300.75" y1="190.0" x2="300.75" y2="189.0" stroke="#aaa" stroke-width="0.6"/>
<line x1="300.75" y1="118.5" x2="300.75" y2="119.5" stroke="#aaa" stroke-width="0.6"/>
<line x1="312.20" y1="190.0" x2="312.20" y2="189.0" stroke="#aaa" stroke-width="0.6"/>
<line x1="312.20" y1="118.5" x2="312.20" y2="119.5" stroke="#aaa" stroke-width="0.6"/>
<line x1="323.65" y1="190.0" x2="323.65" y2="189.0" stroke="#aaa" stroke-width="0.6"/>
<line x1="323.65" y1="118.5" x2="323.65" y2="119.5" stroke="#aaa" stroke-width="0.6"/>
<line x1="335.10" y1="190.0" x2="335.10" y2="189.0" stroke="#aaa" stroke-width="0.6"/>
<line x1="335.10" y1="118.5" x2="335.10" y2="119.5" stroke="#aaa" stroke-width="0.6"/>
<line x1="346.55" y1="190.0" x2="346.55" y2="189.0" stroke="#aaa" stroke-width="0.6"/>
<line x1="346.55" y1="118.5" x2="346.55" y2="119.5" stroke="#aaa" stroke-width="0.6"/>
<line x1="274.75" y1="122.10" x2="275.75" y2="122.10" stroke="#aaa" stroke-width="0.6"/>
<line x1="346.25" y1="122.10" x2="345.25" y2="122.10" stroke="#aaa" stroke-width="0.6"/>
<line x1="274.75" y1="154.30" x2="275.75" y2="154.30" stroke="#aaa" stroke-width="0.6"/>
<line x1="346.25" y1="154.30" x2="345.25" y2="154.30" stroke="#aaa" stroke-width="0.6"/>
<line x1="274.75" y1="186.50" x2="275.75" y2="186.50" stroke="#aaa" stroke-width="0.6"/>
<line x1="346.25" y1="186.50" x2="345.25" y2="186.50" stroke="#aaa" stroke-width="0.6"/>
<path d="M275.00,150.90 L275.24,150.78 L275.48,150.67 L275.71,150.55 L275.95,150.44 L276.19,150.32 L276.43,150.21 L276.67,150.09 L276.91,149.97 L277.14,149.86 L277.38,149.74 L277.62,149.63 L277.86,149.51 L278.10,149.39 L278.33,149.28 L278.57,149.16 L278.81,149.04 L279.05,148.93 L279.29,148.81 L279.52,148.70 L279.76,148.58 L280.00,148.46 L280.24,148.35 L280.48,148.23 L280.72,148.11 L280.95,147.99 L281.19,147.88 L281.43,147.76 L281.67,147.64 L281.91,147.53 L282.14,147.41 L282.38,147.29 L282.62,147.18 L282.86,147.06 L283.10,146.94 L283.33,146.82 L283.57,146.71 L283.81,146.59 L284.05,146.47 L284.29,146.35 L284.53,146.23 L284.76,146.12 L285.00,146.00 L285.24,145.88 L285.48,145.76 L285.72,145.65 L285.95,145.53 L286.19,145.42 L286.43,145.30 L286.67,145.18 L286.91,145.07 L287.14,144.95 L287.38,144.84 L287.62,144.72 L287.86,144.61 L288.10,144.49 L288.34,144.38 L288.57,144.26 L288.81,144.15 L289.05,144.03 L289.29,143.92 L289.53,143.80 L289.76,143.69 L290.00,143.57 L290.24,143.45 L290.48,143.34 L290.72,143.22 L290.95,143.10 L291.19,142.98 L291.43,142.86 L291.67,142.74 L291.91,142.63 L292.15,142.50 L292.38,142.38 L292.62,142.26 L292.86,142.14 L293.10,142.02 L293.34,141.89 L293.57,141.77 L293.81,141.64 L294.05,141.52 L294.29,141.39 L294.53,141.26 L294.76,141.13 L295.00,141.00 L295.24,140.87 L295.48,140.74 L295.72,140.61 L295.96,140.48 L296.19,140.35 L296.43,140.21 L296.67,140.08 L296.91,139.95 L297.15,139.82 L297.38,139.69 L297.62,139.56 L297.86,139.43 L298.10,139.29 L298.34,139.16 L298.57,139.03 L298.81,138.89 L299.05,138.76 L299.29,138.62 L299.53,138.48 L299.77,138.34 L300.00,138.20 L300.24,138.06 L300.48,137.92 L300.72,137.77 L300.96,137.63 L301.19,137.48 L301.43,137.33 L301.67,137.18 L301.91,137.03 L302.15,136.88 L302.38,136.72 L302.62,136.57 L302.86,136.41 L303.10,136.25 L303.34,136.08 L303.58,135.92 L303.81,135.75 L304.05,135.58 L304.29,135.41 L304.53,135.23 L304.77,135.05 L305.00,134.87 L305.24,134.69 L305.48,134.50 L305.72,134.32 L305.96,134.12 L306.19,133.93 L306.43,133.73 L306.67,133.53 L306.91,133.32 L307.15,133.12 L307.39,132.90 L307.62,132.69 L307.86,132.47 L308.10,132.25 L308.34,132.02 L308.58,131.79 L308.81,131.55 L309.05,131.31 L309.29,131.07 L309.53,130.82 L309.77,130.57 L310.00,130.31 L310.24,130.04 L310.48,129.78 L310.72,129.50 L310.96,129.23 L311.20,128.94 L311.43,128.65 L311.67,128.36 L311.91,128.06 L312.15,127.70 L312.39,127.29 L312.62,126.84 L312.86,126.36 L313.10,125.85 L313.34,125.33 L313.58,124.80 L313.81,124.26 L314.05,123.74 L314.29,123.24 L314.53,122.76 L314.77,122.32 L315.01,121.92 L315.24,121.58 L315.48,121.30 L315.72,121.08 L315.96,120.95 L316.20,120.90 L316.43,120.94 L316.67,121.05 L316.91,121.23 L317.15,121.48 L317.39,121.79 L317.62,122.15 L317.86,122.56 L318.10,123.02 L318.34,123.53 L318.58,124.06 L318.82,124.63 L319.05,125.23 L319.29,125.84 L319.53,126.48 L319.77,127.13 L320.01,127.78 L320.24,128.44 L320.48,129.09 L320.72,129.74 L320.96,130.38 L321.20,130.99 L321.43,131.59 L321.67,132.17 L321.91,132.71 L322.15,133.21 L322.39,133.68 L322.63,134.12 L322.86,134.56 L323.10,135.00 L323.34,135.44 L323.58,135.88 L323.82,136.32 L324.05,136.76 L324.29,137.19 L324.53,137.63 L324.77,138.05 L325.01,138.48 L325.24,138.90 L325.48,139.31 L325.72,139.72 L325.96,140.12 L326.20,140.51 L326.44,140.90 L326.67,141.28 L326.91,141.65 L327.15,142.01 L327.39,142.36 L327.63,142.70 L327.86,143.03 L328.10,143.35 L328.34,143.65 L328.58,143.96 L328.82,144.26 L329.05,144.57 L329.29,144.88 L329.53,145.20 L329.77,145.51 L330.01,145.82 L330.25,146.13 L330.48,146.44 L330.72,146.74 L330.96,147.05 L331.20,147.34 L331.44,147.64 L331.67,147.93 L331.91,148.21 L332.15,148.48 L332.39,148.75 L332.63,149.01 L332.86,149.26 L333.10,149.50 L333.34,149.73 L333.58,149.95 L333.82,150.15 L334.06,150.35 L334.29,150.53 L334.53,150.70 L334.77,150.85 L335.01,150.99 L335.25,151.11 L335.48,151.21 L335.72,151.30 L335.96,151.37 L336.20,151.42 L336.44,151.47 L336.67,151.51 L336.91,151.56 L337.15,151.60 L337.39,151.65 L337.63,151.69 L337.87,151.73 L338.10,151.77 L338.34,151.81 L338.58,151.85 L338.82,151.89 L339.06,151.93 L339.29,151.96 L339.53,152.00 L339.77,152.03 L340.01,152.07 L340.25,152.10 L340.48,152.13 L340.72,152.16 L340.96,152.19 L341.20,152.21 L341.44,152.24 L341.68,152.26 L341.91,152.29 L342.15,152.31 L342.39,152.33 L342.63,152.35 L342.87,152.37 L343.10,152.39 L343.34,152.40 L343.58,152.42 L343.82,152.43 L344.06,152.45 L344.29,152.46 L344.53,152.47 L344.77,152.48 L345.01,152.48 L345.25,152.49 L345.49,152.49 L345.72,152.50 L345.96,152.50 L346.20,152.50" fill="none" stroke="#0000ff" stroke-width="0.75" stroke-dasharray="1.4 0.9"/>
<rect x="275.56" y="147.66" width="4.0" height="4.0" fill="none" stroke="#0000ff" stroke-width="0.55" stroke-opacity="0.7"/>
<rect x="278.42" y="146.26" width="4.0" height="4.0" fill="none" stroke="#0000ff" stroke-width="0.55" stroke-opacity="0.7"/>
<rect x="281.28" y="144.85" width="4.0" height="4.0" fill="none" stroke="#0000ff" stroke-width="0.55" stroke-opacity="0.7"/>
<rect x="284.14" y="143.44" width="4.0" height="4.0" fill="none" stroke="#0000ff" stroke-width="0.55" stroke-opacity="0.7"/>
<rect x="287.00" y="142.06" width="4.0" height="4.0" fill="none" stroke="#0000ff" stroke-width="0.55" stroke-opacity="0.7"/>
<rect x="289.86" y="140.65" width="4.0" height="4.0" fill="none" stroke="#0000ff" stroke-width="0.55" stroke-opacity="0.7"/>
<rect x="292.72" y="139.15" width="4.0" height="4.0" fill="none" stroke="#0000ff" stroke-width="0.55" stroke-opacity="0.7"/>
<rect x="295.58" y="137.58" width="4.0" height="4.0" fill="none" stroke="#0000ff" stroke-width="0.55" stroke-opacity="0.7"/>
<rect x="298.44" y="135.94" width="4.0" height="4.0" fill="none" stroke="#0000ff" stroke-width="0.55" stroke-opacity="0.7"/>
<rect x="301.30" y="134.11" width="4.0" height="4.0" fill="none" stroke="#0000ff" stroke-width="0.55" stroke-opacity="0.7"/>
<rect x="304.16" y="131.96" width="4.0" height="4.0" fill="none" stroke="#0000ff" stroke-width="0.55" stroke-opacity="0.7"/>
<rect x="307.02" y="129.34" width="4.0" height="4.0" fill="none" stroke="#0000ff" stroke-width="0.55" stroke-opacity="0.7"/>
<rect x="309.88" y="126.10" width="4.0" height="4.0" fill="none" stroke="#0000ff" stroke-width="0.55" stroke-opacity="0.7"/>
<rect x="312.74" y="120.37" width="4.0" height="4.0" fill="none" stroke="#0000ff" stroke-width="0.55" stroke-opacity="0.7"/>
<rect x="315.60" y="120.11" width="4.0" height="4.0" fill="none" stroke="#0000ff" stroke-width="0.55" stroke-opacity="0.7"/>
<rect x="318.46" y="127.03" width="4.0" height="4.0" fill="none" stroke="#0000ff" stroke-width="0.55" stroke-opacity="0.7"/>
<rect x="321.32" y="133.41" width="4.0" height="4.0" fill="none" stroke="#0000ff" stroke-width="0.55" stroke-opacity="0.7"/>
<rect x="324.18" y="138.48" width="4.0" height="4.0" fill="none" stroke="#0000ff" stroke-width="0.55" stroke-opacity="0.7"/>
<rect x="327.04" y="142.55" width="4.0" height="4.0" fill="none" stroke="#0000ff" stroke-width="0.55" stroke-opacity="0.7"/>
<rect x="329.90" y="146.19" width="4.0" height="4.0" fill="none" stroke="#0000ff" stroke-width="0.55" stroke-opacity="0.7"/>
<rect x="332.76" y="148.84" width="4.0" height="4.0" fill="none" stroke="#0000ff" stroke-width="0.55" stroke-opacity="0.7"/>
<rect x="335.62" y="149.69" width="4.0" height="4.0" fill="none" stroke="#0000ff" stroke-width="0.55" stroke-opacity="0.7"/>
<rect x="338.48" y="150.13" width="4.0" height="4.0" fill="none" stroke="#0000ff" stroke-width="0.55" stroke-opacity="0.7"/>
<rect x="341.34" y="150.40" width="4.0" height="4.0" fill="none" stroke="#0000ff" stroke-width="0.55" stroke-opacity="0.7"/>
<rect x="344.20" y="150.50" width="4.0" height="4.0" fill="none" stroke="#0000ff" stroke-width="0.55" stroke-opacity="0.7"/>
<path d="M275.00,155.80 L275.24,155.89 L275.48,155.99 L275.71,156.08 L275.95,156.18 L276.19,156.27 L276.43,156.36 L276.67,156.46 L276.91,156.55 L277.14,156.64 L277.38,156.74 L277.62,156.83 L277.86,156.92 L278.10,157.01 L278.33,157.10 L278.57,157.20 L278.81,157.29 L279.05,157.38 L279.29,157.47 L279.52,157.56 L279.76,157.65 L280.00,157.74 L280.24,157.84 L280.48,157.93 L280.72,158.02 L280.95,158.11 L281.19,158.20 L281.43,158.29 L281.67,158.38 L281.91,158.46 L282.14,158.55 L282.38,158.65 L282.62,158.75 L282.86,158.85 L283.10,158.96 L283.33,159.06 L283.57,159.18 L283.81,159.29 L284.05,159.40 L284.29,159.52 L284.53,159.63 L284.76,159.75 L285.00,159.86 L285.24,159.98 L285.48,160.09 L285.72,160.20 L285.95,160.31 L286.19,160.41 L286.43,160.51 L286.67,160.61 L286.91,160.70 L287.14,160.79 L287.38,160.87 L287.62,160.95 L287.86,161.02 L288.10,161.09 L288.34,161.14 L288.57,161.19 L288.81,161.23 L289.05,161.26 L289.29,161.28 L289.53,161.30 L289.76,161.30 L290.00,161.30 L290.24,161.30 L290.48,161.29 L290.72,161.29 L290.95,161.28 L291.19,161.27 L291.43,161.27 L291.67,161.26 L291.91,161.25 L292.15,161.23 L292.38,161.22 L292.62,161.21 L292.86,161.19 L293.10,161.18 L293.34,161.16 L293.57,161.14 L293.81,161.12 L294.05,161.11 L294.29,161.09 L294.53,161.07 L294.76,161.05 L295.00,161.02 L295.24,161.00 L295.48,160.98 L295.72,160.96 L295.96,160.93 L296.19,160.91 L296.43,160.88 L296.67,160.86 L296.91,160.83 L297.15,160.81 L297.38,160.78 L297.62,160.76 L297.86,160.73 L298.10,160.71 L298.34,160.68 L298.57,160.65 L298.81,160.63 L299.05,160.60 L299.29,160.58 L299.53,160.55 L299.77,160.53 L300.00,160.50 L300.24,160.47 L300.48,160.45 L300.72,160.43 L300.96,160.40 L301.19,160.38 L301.43,160.35 L301.67,160.33 L301.91,160.31 L302.15,160.28 L302.38,160.26 L302.62,160.23 L302.86,160.20 L303.10,160.18 L303.34,160.15 L303.58,160.12 L303.81,160.09 L304.05,160.06 L304.29,160.03 L304.53,159.99 L304.77,159.96 L305.00,159.92 L305.24,159.88 L305.48,159.84 L305.72,159.79 L305.96,159.75 L306.19,159.70 L306.43,159.65 L306.67,159.60 L306.91,159.54 L307.15,159.49 L307.39,159.43 L307.62,159.36 L307.86,159.29 L308.10,159.23 L308.34,159.15 L308.58,159.07 L308.81,158.96 L309.05,158.80 L309.29,158.59 L309.53,158.35 L309.77,158.07 L310.00,157.76 L310.24,157.42 L310.48,157.05 L310.72,156.66 L310.96,156.25 L311.20,155.82 L311.43,155.37 L311.67,154.92 L311.91,154.45 L312.15,153.98 L312.39,153.51 L312.62,153.04 L312.86,152.57 L313.10,152.09 L313.34,151.55 L313.58,150.97 L313.81,150.34 L314.05,149.68 L314.29,148.99 L314.53,148.28 L314.77,147.54 L315.01,146.80 L315.24,146.06 L315.48,145.31 L315.72,144.57 L315.96,143.85 L316.20,143.14 L316.43,142.46 L316.67,141.81 L316.91,141.20 L317.15,140.63 L317.39,140.11 L317.62,139.59 L317.86,139.05 L318.10,138.50 L318.34,137.94 L318.58,137.39 L318.82,136.83 L319.05,136.28 L319.29,135.74 L319.53,135.21 L319.77,134.71 L320.01,134.22 L320.24,133.76 L320.48,133.33 L320.72,132.94 L320.96,132.59 L321.20,132.27 L321.43,132.01 L321.67,131.80 L321.91,131.64 L322.15,131.54 L322.39,131.50 L322.63,131.50 L322.86,131.52 L323.10,131.54 L323.34,131.57 L323.58,131.61 L323.82,131.65 L324.05,131.70 L324.29,131.76 L324.53,131.82 L324.77,131.89 L325.01,131.97 L325.24,132.04 L325.48,132.13 L325.72,132.22 L325.96,132.31 L326.20,132.40 L326.44,132.50 L326.67,132.60 L326.91,132.70 L327.15,132.80 L327.39,132.91 L327.63,133.01 L327.86,133.11 L328.10,133.22 L328.34,133.32 L328.58,133.43 L328.82,133.53 L329.05,133.63 L329.29,133.73 L329.53,133.82 L329.77,133.91 L330.01,134.00 L330.25,134.09 L330.48,134.18 L330.72,134.27 L330.96,134.36 L331.20,134.46 L331.44,134.55 L331.67,134.65 L331.91,134.75 L332.15,134.84 L332.39,134.94 L332.63,135.04 L332.86,135.14 L333.10,135.24 L333.34,135.35 L333.58,135.45 L333.82,135.55 L334.06,135.65 L334.29,135.75 L334.53,135.86 L334.77,135.96 L335.01,136.06 L335.25,136.16 L335.48,136.27 L335.72,136.37 L335.96,136.47 L336.20,136.57 L336.44,136.67 L336.67,136.77 L336.91,136.87 L337.15,136.96 L337.39,137.06 L337.63,137.15 L337.87,137.25 L338.10,137.34 L338.34,137.43 L338.58,137.52 L338.82,137.62 L339.06,137.71 L339.29,137.80 L339.53,137.89 L339.77,137.98 L340.01,138.07 L340.25,138.16 L340.48,138.25 L340.72,138.34 L340.96,138.43 L341.20,138.51 L341.44,138.60 L341.68,138.69 L341.91,138.78 L342.15,138.87 L342.39,138.95 L342.63,139.04 L342.87,139.13 L343.10,139.21 L343.34,139.30 L343.58,139.38 L343.82,139.47 L344.06,139.55 L344.29,139.64 L344.53,139.72 L344.77,139.80 L345.01,139.89 L345.25,139.97 L345.49,140.05 L345.72,140.14 L345.96,140.22 L346.20,140.30" fill="none" stroke="#ff0000" stroke-width="0.75"/>
<circle cx="277.56" cy="156.80" r="2.15" fill="none" stroke="#ff0000" stroke-width="0.55" stroke-opacity="0.7"/>
<circle cx="280.42" cy="157.90" r="2.15" fill="none" stroke="#ff0000" stroke-width="0.55" stroke-opacity="0.7"/>
<circle cx="283.28" cy="159.04" r="2.15" fill="none" stroke="#ff0000" stroke-width="0.55" stroke-opacity="0.7"/>
<circle cx="286.14" cy="160.39" r="2.15" fill="none" stroke="#ff0000" stroke-width="0.55" stroke-opacity="0.7"/>
<circle cx="289.00" cy="161.26" r="2.15" fill="none" stroke="#ff0000" stroke-width="0.55" stroke-opacity="0.7"/>
<circle cx="291.86" cy="161.25" r="2.15" fill="none" stroke="#ff0000" stroke-width="0.55" stroke-opacity="0.7"/>
<circle cx="294.72" cy="161.05" r="2.15" fill="none" stroke="#ff0000" stroke-width="0.55" stroke-opacity="0.7"/>
<circle cx="297.58" cy="160.76" r="2.15" fill="none" stroke="#ff0000" stroke-width="0.55" stroke-opacity="0.7"/>
<circle cx="300.44" cy="160.45" r="2.15" fill="none" stroke="#ff0000" stroke-width="0.55" stroke-opacity="0.7"/>
<circle cx="303.30" cy="160.15" r="2.15" fill="none" stroke="#ff0000" stroke-width="0.55" stroke-opacity="0.7"/>
<circle cx="306.16" cy="159.71" r="2.15" fill="none" stroke="#ff0000" stroke-width="0.55" stroke-opacity="0.7"/>
<circle cx="309.02" cy="158.82" r="2.15" fill="none" stroke="#ff0000" stroke-width="0.55" stroke-opacity="0.7"/>
<circle cx="311.88" cy="154.51" r="2.15" fill="none" stroke="#ff0000" stroke-width="0.55" stroke-opacity="0.7"/>
<circle cx="314.74" cy="147.63" r="2.15" fill="none" stroke="#ff0000" stroke-width="0.55" stroke-opacity="0.7"/>
<circle cx="317.60" cy="139.64" r="2.15" fill="none" stroke="#ff0000" stroke-width="0.55" stroke-opacity="0.7"/>
<circle cx="320.46" cy="133.37" r="2.15" fill="none" stroke="#ff0000" stroke-width="0.55" stroke-opacity="0.7"/>
<circle cx="323.32" cy="131.57" r="2.15" fill="none" stroke="#ff0000" stroke-width="0.55" stroke-opacity="0.7"/>
<circle cx="326.18" cy="132.39" r="2.15" fill="none" stroke="#ff0000" stroke-width="0.55" stroke-opacity="0.7"/>
<circle cx="329.04" cy="133.62" r="2.15" fill="none" stroke="#ff0000" stroke-width="0.55" stroke-opacity="0.7"/>
<circle cx="331.90" cy="134.74" r="2.15" fill="none" stroke="#ff0000" stroke-width="0.55" stroke-opacity="0.7"/>
<circle cx="334.76" cy="135.96" r="2.15" fill="none" stroke="#ff0000" stroke-width="0.55" stroke-opacity="0.7"/>
<circle cx="337.62" cy="137.15" r="2.15" fill="none" stroke="#ff0000" stroke-width="0.55" stroke-opacity="0.7"/>
<circle cx="340.48" cy="138.25" r="2.15" fill="none" stroke="#ff0000" stroke-width="0.55" stroke-opacity="0.7"/>
<circle cx="343.34" cy="139.30" r="2.15" fill="none" stroke="#ff0000" stroke-width="0.55" stroke-opacity="0.7"/>
<circle cx="346.20" cy="140.30" r="2.15" fill="none" stroke="#ff0000" stroke-width="0.55" stroke-opacity="0.7"/>
<rect x="44.4" y="225.8" width="78.50" height="82.40" fill="#fff"/>
<line x1="64.1" y1="225.8" x2="64.1" y2="308.2" stroke="#d9d9d9" stroke-width="0.8"/>
<line x1="83.8" y1="225.8" x2="83.8" y2="308.2" stroke="#d9d9d9" stroke-width="0.8"/>
<line x1="103.2" y1="225.8" x2="103.2" y2="308.2" stroke="#d9d9d9" stroke-width="0.8"/>
<line x1="44.4" y1="296.50" x2="122.9" y2="296.50" stroke="#d9d9d9" stroke-width="0.8"/>
<line x1="44.4" y1="284.75" x2="122.9" y2="284.75" stroke="#d9d9d9" stroke-width="0.8"/>
<line x1="44.4" y1="273.00" x2="122.9" y2="273.00" stroke="#d9d9d9" stroke-width="0.8"/>
<line x1="44.4" y1="261.25" x2="122.9" y2="261.25" stroke="#d9d9d9" stroke-width="0.8"/>
<line x1="44.4" y1="249.50" x2="122.9" y2="249.50" stroke="#d9d9d9" stroke-width="0.8"/>
<line x1="44.4" y1="237.75" x2="122.9" y2="237.75" stroke="#d9d9d9" stroke-width="0.8"/>
<rect x="44.4" y="225.8" width="78.50" height="82.40" fill="none" stroke="#bfbfbf" stroke-width="0.8"/>
<line x1="44.4" y1="291.93" x2="45.9" y2="291.93" stroke="#999" stroke-width="0.6"/>
<line x1="44.4" y1="275.56" x2="45.9" y2="275.56" stroke="#999" stroke-width="0.6"/>
<line x1="44.4" y1="259.19" x2="45.9" y2="259.19" stroke="#999" stroke-width="0.6"/>
<line x1="44.4" y1="242.82" x2="45.9" y2="242.82" stroke="#999" stroke-width="0.6"/>
<line x1="44.4" y1="226.45" x2="45.9" y2="226.45" stroke="#999" stroke-width="0.6"/>
<circle cx="62.4" cy="248.7" r="2.65" fill="#000"/>
<circle cx="81.8" cy="248.7" r="2.65" fill="#000"/>
<circle cx="101.2" cy="249.3" r="2.65" fill="#000"/>
<circle cx="120.6" cy="247.4" r="2.65" fill="#000"/>
<rect x="226.3" y="226.0" width="78.30" height="82.30" fill="#fff"/>
<line x1="241.96" y1="226.0" x2="241.96" y2="308.3" stroke="#d9d9d9" stroke-width="0.8"/>
<line x1="257.62" y1="226.0" x2="257.62" y2="308.3" stroke="#d9d9d9" stroke-width="0.8"/>
<line x1="273.28" y1="226.0" x2="273.28" y2="308.3" stroke="#d9d9d9" stroke-width="0.8"/>
<line x1="288.94" y1="226.0" x2="288.94" y2="308.3" stroke="#d9d9d9" stroke-width="0.8"/>
<line x1="226.3" y1="292.02" x2="304.6" y2="292.02" stroke="#d9d9d9" stroke-width="0.8"/>
<line x1="226.3" y1="275.65" x2="304.6" y2="275.65" stroke="#d9d9d9" stroke-width="0.8"/>
<line x1="226.3" y1="259.27" x2="304.6" y2="259.27" stroke="#d9d9d9" stroke-width="0.8"/>
<line x1="226.3" y1="242.90" x2="304.6" y2="242.90" stroke="#d9d9d9" stroke-width="0.8"/>
<rect x="226.3" y="226.0" width="78.30" height="82.30" fill="none" stroke="#bfbfbf" stroke-width="0.8"/>
<line x1="226.3" y1="289.90" x2="227.8" y2="289.90" stroke="#999" stroke-width="0.6"/>
<line x1="226.3" y1="271.80" x2="227.8" y2="271.80" stroke="#999" stroke-width="0.6"/>
<line x1="226.3" y1="253.70" x2="227.8" y2="253.70" stroke="#999" stroke-width="0.6"/>
<line x1="226.3" y1="235.60" x2="227.8" y2="235.60" stroke="#999" stroke-width="0.6"/>
<circle cx="242.0" cy="292.6" r="2.65" fill="#000"/>
<circle cx="257.7" cy="275.9" r="2.65" fill="#000"/>
<circle cx="272.9" cy="259.1" r="2.65" fill="#000"/>
<circle cx="289.0" cy="243.7" r="2.65" fill="#000"/>
<text transform="translate(28.56 14.26) scale(0.8667 0.8216)" font-size="10" fill="#fff" stroke="#fff" stroke-width="0.237">(a) α = 0.1</text>
<text transform="translate(28.85 24.67) scale(0.8621 0.8649)" font-size="10" fill="#fff" stroke="#fff" stroke-width="0.232">B<tspan font-size="6.5" dy="2.0">i</tspan><tspan dy="-2.0"> = 8 MJ/m</tspan><tspan font-size="6.5" dy="-2.6">3</tspan></text>
<text transform="translate(15.72 7.98) scale(1.0265 0.9965)" font-size="10" fill="#000" stroke="#000" stroke-width="0.217">30</text>
<text transform="translate(28.99 94.90) scale(0.9891 0.9891)" font-size="10" fill="#000" stroke="#000" stroke-width="0.222">1</text>
<text transform="translate(35.40 106.90) scale(1.0764 1.0764)" font-size="10" fill="#000" stroke="#000" stroke-width="0.204">H</text>
<text transform="translate(43.41 110.34) scale(0.7622 0.7622)" font-size="10" fill="#000" stroke="#000" stroke-width="0.289">app</text>
<text transform="translate(60.50 107.18) scale(1.1158 1.1158)" font-size="10" fill="#000" stroke="#000" stroke-width="0.197">(kOe)</text>
<text transform="translate(12.11 82.67) rotate(-90) scale(0.9943 0.9943)" font-size="10" fill="#000" stroke="#000" stroke-width="0.221">Frequency (GHz)</text>
<text transform="translate(153.57 14.26) scale(0.8533 0.8216)" font-size="10" fill="#fff" stroke="#fff" stroke-width="0.239">(b) α = 0.1</text>
<text transform="translate(153.83 24.67) scale(0.8792 0.8649)" font-size="10" fill="#fff" stroke="#fff" stroke-width="0.229">B<tspan font-size="6.5" dy="2.0">i</tspan><tspan dy="-2.0"> = 0.8 MJ/m</tspan><tspan font-size="6.5" dy="-2.6">3</tspan></text>
<text transform="translate(139.92 7.98) scale(1.0265 0.9965)" font-size="10" fill="#000" stroke="#000" stroke-width="0.217">30</text>
<text transform="translate(153.19 94.90) scale(0.9891 0.9891)" font-size="10" fill="#000" stroke="#000" stroke-width="0.222">1</text>
<text transform="translate(159.50 106.90) scale(1.0764 1.0764)" font-size="10" fill="#000" stroke="#000" stroke-width="0.204">H</text>
<text transform="translate(167.51 110.34) scale(0.7622 0.7622)" font-size="10" fill="#000" stroke="#000" stroke-width="0.289">app</text>
<text transform="translate(184.80 107.18) scale(1.1158 1.1158)" font-size="10" fill="#000" stroke="#000" stroke-width="0.197">(kOe)</text>
<text transform="translate(136.31 82.67) rotate(-90) scale(0.9943 0.9943)" font-size="10" fill="#000" stroke="#000" stroke-width="0.221">Frequency (GHz)</text>
<text transform="translate(276.59 14.34) scale(0.8090 0.8324)" font-size="10" fill="#fff" stroke="#fff" stroke-width="0.244">(c) α = 0.2</text>
<text transform="translate(276.66 24.67) scale(0.8402 0.8649)" font-size="10" fill="#fff" stroke="#fff" stroke-width="0.235">B<tspan font-size="6.5" dy="2.0">i</tspan><tspan dy="-2.0"> = 8 MJ/m</tspan><tspan font-size="6.5" dy="-2.6">3</tspan></text>
<text transform="translate(262.42 7.98) scale(1.0265 0.9965)" font-size="10" fill="#000" stroke="#000" stroke-width="0.217">30</text>
<text transform="translate(275.69 94.90) scale(0.9891 0.9891)" font-size="10" fill="#000" stroke="#000" stroke-width="0.222">1</text>
<text transform="translate(283.70 106.90) scale(1.0764 1.0764)" font-size="10" fill="#000" stroke="#000" stroke-width="0.204">H</text>
<text transform="translate(291.71 110.34) scale(0.7622 0.7622)" font-size="10" fill="#000" stroke="#000" stroke-width="0.289">app</text>
<text transform="translate(308.30 107.18) scale(1.1158 1.1158)" font-size="10" fill="#000" stroke="#000" stroke-width="0.197">(kOe)</text>
<text transform="translate(258.81 82.67) rotate(-90) scale(0.9943 0.9943)" font-size="10" fill="#000" stroke="#000" stroke-width="0.221">Frequency (GHz)</text>
<text transform="translate(27.53 127.34) scale(0.9091 0.9091)" font-size="10" fill="#000" stroke="#000" stroke-width="0.242">(d)</text>
<text transform="translate(16.43 125.70) scale(1.0618 1.0618)" font-size="10" fill="#000" stroke="#000" stroke-width="0.207">1</text>
<text transform="translate(35.15 213.10) scale(1.0618 1.0618)" font-size="10" fill="#000" stroke="#000" stroke-width="0.207">H</text>
<text transform="translate(43.11 216.14) scale(0.7622 0.7622)" font-size="10" fill="#000" stroke="#000" stroke-width="0.289">app</text>
<text transform="translate(58.61 212.82) scale(1.1116 1.1116)" font-size="10" fill="#000" stroke="#000" stroke-width="0.198">(kOe)</text>
<text transform="translate(12.24 188.82) rotate(-90) scale(1.0491 1.0491)" font-size="10" fill="#000" stroke="#000" stroke-width="0.210">Normalized FA</text>
<text transform="translate(151.58 127.34) scale(0.9091 0.9091)" font-size="10" fill="#000" stroke="#000" stroke-width="0.242">(e)</text>
<text transform="translate(140.48 125.70) scale(1.0618 1.0618)" font-size="10" fill="#000" stroke="#000" stroke-width="0.207">1</text>
<text transform="translate(159.40 213.10) scale(1.0618 1.0618)" font-size="10" fill="#000" stroke="#000" stroke-width="0.207">H</text>
<text transform="translate(167.36 216.14) scale(0.7622 0.7622)" font-size="10" fill="#000" stroke="#000" stroke-width="0.289">app</text>
<text transform="translate(182.66 212.82) scale(1.1116 1.1116)" font-size="10" fill="#000" stroke="#000" stroke-width="0.198">(kOe)</text>
<text transform="translate(136.29 188.82) rotate(-90) scale(1.0491 1.0491)" font-size="10" fill="#000" stroke="#000" stroke-width="0.210">Normalized FA</text>
<text transform="translate(275.88 128.18) scale(1.2308 1.2308)" font-size="10" fill="#000" stroke="#000" stroke-width="0.179">(f)</text>
<text transform="translate(264.98 125.70) scale(1.0618 1.0618)" font-size="10" fill="#000" stroke="#000" stroke-width="0.207">1</text>
<text transform="translate(283.90 213.10) scale(1.0618 1.0618)" font-size="10" fill="#000" stroke="#000" stroke-width="0.207">H</text>
<text transform="translate(291.86 216.14) scale(0.7622 0.7622)" font-size="10" fill="#000" stroke="#000" stroke-width="0.289">app</text>
<text transform="translate(308.26 212.82) scale(1.1116 1.1116)" font-size="10" fill="#000" stroke="#000" stroke-width="0.198">(kOe)</text>
<text transform="translate(260.79 188.82) rotate(-90) scale(1.0491 1.0491)" font-size="10" fill="#000" stroke="#000" stroke-width="0.210">Normalized FA</text>
<text transform="translate(20.71 245.96) scale(1.1810 1.0947)" font-size="10" fill="#000" stroke="#000" stroke-width="0.105">0.8</text>
<text transform="translate(128.33 241.46) scale(1.1248 1.0807)" font-size="10" fill="#000" stroke="#000" stroke-width="0.109">0.12</text>
<text transform="translate(34.13 322.28) scale(1.1571 0.9910)" font-size="10" fill="#000" stroke="#000" stroke-width="0.112">10<tspan font-size="6.8" dy="-3.6">4</tspan></text>
<text transform="translate(62.92 340.12) scale(1.1145 1.0023)" font-size="10" fill="#000" stroke="#000" stroke-width="0.113">B<tspan font-size="7" dy="2.4">i</tspan><tspan dy="-2.4"> (J/m</tspan><tspan font-size="7" dy="-3.6">3</tspan><tspan dy="3.6">)</tspan></text>
<text transform="translate(9.51 293.37) rotate(-90) scale(1.0667 1.1596)" font-size="10" fill="#000" stroke="#000" stroke-width="0.108">ΔH<tspan font-size="7.5" dy="2.4">p</tspan><tspan dy="-2.4"> (kOe)</tspan></text>
<text transform="translate(158.94 229.47) rotate(90) scale(1.1358 1.1948)" font-size="10" fill="#000" stroke="#000" stroke-width="0.103">α<tspan font-size="7.5" dy="2.4">eff</tspan><tspan dy="-2.4"> (Extracted)</tspan></text>
<text transform="translate(45.25 234.49) scale(0.8867 0.7568)" font-size="10" fill="#000" stroke="#000" stroke-width="0.146">(g) α = 0.1</text>
<text transform="translate(202.59 239.46) scale(1.2078 1.1228)" font-size="10" fill="#000" stroke="#000" stroke-width="0.103">1.6</text>
<text transform="translate(310.07 230.66) scale(1.1490 1.0807)" font-size="10" fill="#000" stroke="#000" stroke-width="0.108">0.25</text>
<text transform="translate(226.97 338.03) scale(1.1571 1.1070)" font-size="10" fill="#000" stroke="#000" stroke-width="0.106">α<tspan font-size="8" dy="3.4">eff</tspan><tspan dy="-3.4"> (Specified)</tspan></text>
<text transform="translate(191.99 293.57) rotate(-90) scale(1.0667 1.2404)" font-size="10" fill="#000" stroke="#000" stroke-width="0.104">ΔH<tspan font-size="7.5" dy="2.4">p</tspan><tspan dy="-2.4"> (kOe)</tspan></text>
<text transform="translate(341.61 227.77) rotate(90) scale(1.1544 1.1844)" font-size="10" fill="#000" stroke="#000" stroke-width="0.103">α<tspan font-size="7.5" dy="2.4">eff</tspan><tspan dy="-2.4"> (Extracted)</tspan></text>
<text transform="translate(227.65 234.11) scale(0.8829 0.8973)" font-size="10" fill="#000" stroke="#000" stroke-width="0.135">(h) B<tspan font-size="6.5" dy="2.0">i</tspan><tspan dy="-2.0"> = 8 MJ/m</tspan><tspan font-size="6.5" dy="-2.6">3</tspan></text>
<text transform="translate(15.72 34.38) scale(1.0265 0.9965)" font-size="10" fill="#000" stroke="#000" stroke-width="0.217">20</text>
<text transform="translate(15.72 60.88) scale(1.0265 0.9965)" font-size="10" fill="#000" stroke="#000" stroke-width="0.217">10</text>
<text transform="translate(21.49 88.13) scale(1.0265 0.9965)" font-size="10" fill="#000" stroke="#000" stroke-width="0.217">0</text>
<text transform="translate(39.35 94.96) scale(0.9891 0.9891)" font-size="10" fill="#000" stroke="#000" stroke-width="0.222">2</text>
<text transform="translate(49.52 94.90) scale(0.9891 0.9891)" font-size="10" fill="#000" stroke="#000" stroke-width="0.222">3</text>
<text transform="translate(59.69 94.90) scale(0.9891 0.9891)" font-size="10" fill="#000" stroke="#000" stroke-width="0.222">4</text>
<text transform="translate(69.86 94.84) scale(0.9891 0.9891)" font-size="10" fill="#000" stroke="#000" stroke-width="0.222">5</text>
<text transform="translate(79.97 94.90) scale(0.9891 0.9891)" font-size="10" fill="#000" stroke="#000" stroke-width="0.222">6</text>
<text transform="translate(90.20 94.90) scale(0.9891 0.9891)" font-size="10" fill="#000" stroke="#000" stroke-width="0.222">7</text>
<text transform="translate(139.92 34.38) scale(1.0265 0.9965)" font-size="10" fill="#000" stroke="#000" stroke-width="0.217">20</text>
<text transform="translate(139.92 60.88) scale(1.0265 0.9965)" font-size="10" fill="#000" stroke="#000" stroke-width="0.217">10</text>
<text transform="translate(145.69 88.13) scale(1.0265 0.9965)" font-size="10" fill="#000" stroke="#000" stroke-width="0.217">0</text>
<text transform="translate(163.55 94.96) scale(0.9891 0.9891)" font-size="10" fill="#000" stroke="#000" stroke-width="0.222">2</text>
<text transform="translate(173.72 94.90) scale(0.9891 0.9891)" font-size="10" fill="#000" stroke="#000" stroke-width="0.222">3</text>
<text transform="translate(183.89 94.90) scale(0.9891 0.9891)" font-size="10" fill="#000" stroke="#000" stroke-width="0.222">4</text>
<text transform="translate(194.06 94.84) scale(0.9891 0.9891)" font-size="10" fill="#000" stroke="#000" stroke-width="0.222">5</text>
<text transform="translate(204.17 94.90) scale(0.9891 0.9891)" font-size="10" fill="#000" stroke="#000" stroke-width="0.222">6</text>
<text transform="translate(214.40 94.90) scale(0.9891 0.9891)" font-size="10" fill="#000" stroke="#000" stroke-width="0.222">7</text>
<text transform="translate(262.42 34.38) scale(1.0265 0.9965)" font-size="10" fill="#000" stroke="#000" stroke-width="0.217">20</text>
<text transform="translate(262.42 60.88) scale(1.0265 0.9965)" font-size="10" fill="#000" stroke="#000" stroke-width="0.217">10</text>
<text transform="translate(268.19 88.13) scale(1.0265 0.9965)" font-size="10" fill="#000" stroke="#000" stroke-width="0.217">0</text>
<text transform="translate(286.05 94.96) scale(0.9891 0.9891)" font-size="10" fill="#000" stroke="#000" stroke-width="0.222">2</text>
<text transform="translate(296.22 94.90) scale(0.9891 0.9891)" font-size="10" fill="#000" stroke="#000" stroke-width="0.222">3</text>
<text transform="translate(306.39 94.90) scale(0.9891 0.9891)" font-size="10" fill="#000" stroke="#000" stroke-width="0.222">4</text>
<text transform="translate(316.56 94.84) scale(0.9891 0.9891)" font-size="10" fill="#000" stroke="#000" stroke-width="0.222">5</text>
<text transform="translate(326.67 94.90) scale(0.9891 0.9891)" font-size="10" fill="#000" stroke="#000" stroke-width="0.222">6</text>
<text transform="translate(336.90 94.90) scale(0.9891 0.9891)" font-size="10" fill="#000" stroke="#000" stroke-width="0.222">7</text>
<text transform="translate(353.59 34.90) scale(0.9891 0.9891)" font-size="10" fill="#000" stroke="#000" stroke-width="0.222">1</text>
<text transform="translate(355.03 87.35) scale(0.9891 0.9891)" font-size="10" fill="#000" stroke="#000" stroke-width="0.222">0</text>
<text transform="translate(16.78 157.90) scale(1.0618 1.0618)" font-size="10" fill="#000" stroke="#000" stroke-width="0.207">0</text>
<text transform="translate(15.51 190.55) scale(1.0618 1.0618)" font-size="10" fill="#000" stroke="#000" stroke-width="0.207">-1</text>
<text transform="translate(26.09 200.30) scale(0.9891 0.9891)" font-size="10" fill="#000" stroke="#000" stroke-width="0.222">1</text>
<text transform="translate(37.75 200.36) scale(0.9891 0.9891)" font-size="10" fill="#000" stroke="#000" stroke-width="0.222">2</text>
<text transform="translate(49.22 200.30) scale(0.9891 0.9891)" font-size="10" fill="#000" stroke="#000" stroke-width="0.222">3</text>
<text transform="translate(60.69 200.30) scale(0.9891 0.9891)" font-size="10" fill="#000" stroke="#000" stroke-width="0.222">4</text>
<text transform="translate(72.16 200.24) scale(0.9891 0.9891)" font-size="10" fill="#000" stroke="#000" stroke-width="0.222">5</text>
<text transform="translate(83.57 200.30) scale(0.9891 0.9891)" font-size="10" fill="#000" stroke="#000" stroke-width="0.222">6</text>
<text transform="translate(95.10 200.30) scale(0.9891 0.9891)" font-size="10" fill="#000" stroke="#000" stroke-width="0.222">7</text>
<text transform="translate(140.83 157.90) scale(1.0618 1.0618)" font-size="10" fill="#000" stroke="#000" stroke-width="0.207">0</text>
<text transform="translate(139.56 190.55) scale(1.0618 1.0618)" font-size="10" fill="#000" stroke="#000" stroke-width="0.207">-1</text>
<text transform="translate(150.14 200.30) scale(0.9891 0.9891)" font-size="10" fill="#000" stroke="#000" stroke-width="0.222">1</text>
<text transform="translate(161.80 200.36) scale(0.9891 0.9891)" font-size="10" fill="#000" stroke="#000" stroke-width="0.222">2</text>
<text transform="translate(173.27 200.30) scale(0.9891 0.9891)" font-size="10" fill="#000" stroke="#000" stroke-width="0.222">3</text>
<text transform="translate(184.74 200.30) scale(0.9891 0.9891)" font-size="10" fill="#000" stroke="#000" stroke-width="0.222">4</text>
<text transform="translate(196.21 200.24) scale(0.9891 0.9891)" font-size="10" fill="#000" stroke="#000" stroke-width="0.222">5</text>
<text transform="translate(207.62 200.30) scale(0.9891 0.9891)" font-size="10" fill="#000" stroke="#000" stroke-width="0.222">6</text>
<text transform="translate(219.15 200.30) scale(0.9891 0.9891)" font-size="10" fill="#000" stroke="#000" stroke-width="0.222">7</text>
<text transform="translate(265.33 157.90) scale(1.0618 1.0618)" font-size="10" fill="#000" stroke="#000" stroke-width="0.207">0</text>
<text transform="translate(264.06 190.55) scale(1.0618 1.0618)" font-size="10" fill="#000" stroke="#000" stroke-width="0.207">-1</text>
<text transform="translate(274.64 200.30) scale(0.9891 0.9891)" font-size="10" fill="#000" stroke="#000" stroke-width="0.222">1</text>
<text transform="translate(286.30 200.36) scale(0.9891 0.9891)" font-size="10" fill="#000" stroke="#000" stroke-width="0.222">2</text>
<text transform="translate(297.77 200.30) scale(0.9891 0.9891)" font-size="10" fill="#000" stroke="#000" stroke-width="0.222">3</text>
<text transform="translate(309.24 200.30) scale(0.9891 0.9891)" font-size="10" fill="#000" stroke="#000" stroke-width="0.222">4</text>
<text transform="translate(320.71 200.24) scale(0.9891 0.9891)" font-size="10" fill="#000" stroke="#000" stroke-width="0.222">5</text>
<text transform="translate(332.12 200.30) scale(0.9891 0.9891)" font-size="10" fill="#000" stroke="#000" stroke-width="0.222">6</text>
<text transform="translate(343.65 200.30) scale(0.9891 0.9891)" font-size="10" fill="#000" stroke="#000" stroke-width="0.222">7</text>
<text transform="translate(30.35 230.21) scale(1.1810 1.0947)" font-size="10" fill="#000" stroke="#000" stroke-width="0.105">1</text>
<text transform="translate(20.71 262.95) scale(1.1810 1.0947)" font-size="10" fill="#000" stroke="#000" stroke-width="0.105">0.6</text>
<text transform="translate(20.56 279.32) scale(1.1810 1.0947)" font-size="10" fill="#000" stroke="#000" stroke-width="0.105">0.4</text>
<text transform="translate(20.85 295.69) scale(1.1810 1.0947)" font-size="10" fill="#000" stroke="#000" stroke-width="0.105">0.2</text>
<text transform="translate(20.71 312.06) scale(1.1810 1.0947)" font-size="10" fill="#000" stroke="#000" stroke-width="0.105">0.0</text>
<text transform="translate(128.33 264.96) scale(1.1248 1.0807)" font-size="10" fill="#000" stroke="#000" stroke-width="0.109">0.08</text>
<text transform="translate(128.33 288.46) scale(1.1248 1.0807)" font-size="10" fill="#000" stroke="#000" stroke-width="0.109">0.04</text>
<text transform="translate(128.33 311.96) scale(1.1248 1.0807)" font-size="10" fill="#000" stroke="#000" stroke-width="0.109">0.00</text>
<text transform="translate(54.20 322.28) scale(1.1571 0.9910)" font-size="10" fill="#000" stroke="#000" stroke-width="0.112">10<tspan font-size="6.8" dy="-3.6">5</tspan></text>
<text transform="translate(74.10 322.34) scale(1.1571 0.9910)" font-size="10" fill="#000" stroke="#000" stroke-width="0.112">10<tspan font-size="6.8" dy="-3.6">6</tspan></text>
<text transform="translate(94.00 322.28) scale(1.1571 0.9910)" font-size="10" fill="#000" stroke="#000" stroke-width="0.112">10<tspan font-size="6.8" dy="-3.6">7</tspan></text>
<text transform="translate(113.85 322.34) scale(1.1571 0.9910)" font-size="10" fill="#000" stroke="#000" stroke-width="0.112">10<tspan font-size="6.8" dy="-3.6">8</tspan></text>
<text transform="translate(202.75 257.63) scale(1.2078 1.1228)" font-size="10" fill="#000" stroke="#000" stroke-width="0.103">1.2</text>
<text transform="translate(202.59 275.66) scale(1.2078 1.1228)" font-size="10" fill="#000" stroke="#000" stroke-width="0.103">0.8</text>
<text transform="translate(202.44 293.76) scale(1.2078 1.1228)" font-size="10" fill="#000" stroke="#000" stroke-width="0.103">0.4</text>
<text transform="translate(202.59 311.86) scale(1.2078 1.1228)" font-size="10" fill="#000" stroke="#000" stroke-width="0.103">0.0</text>
<text transform="translate(310.07 246.91) scale(1.1490 1.0807)" font-size="10" fill="#000" stroke="#000" stroke-width="0.108">0.20</text>
<text transform="translate(310.07 263.16) scale(1.1490 1.0807)" font-size="10" fill="#000" stroke="#000" stroke-width="0.108">0.15</text>
<text transform="translate(310.07 279.41) scale(1.1490 1.0807)" font-size="10" fill="#000" stroke="#000" stroke-width="0.108">0.10</text>
<text transform="translate(310.07 295.66) scale(1.1490 1.0807)" font-size="10" fill="#000" stroke="#000" stroke-width="0.108">0.05</text>
<text transform="translate(310.07 311.91) scale(1.1490 1.0807)" font-size="10" fill="#000" stroke="#000" stroke-width="0.108">0.00</text>
<text transform="translate(223.59 323.54) scale(1.1490 1.0807)" font-size="10" fill="#000" stroke="#000" stroke-width="0.108">0</text>
<text transform="translate(249.70 323.54) scale(1.1490 1.0807)" font-size="10" fill="#000" stroke="#000" stroke-width="0.108">0.1</text>
<text transform="translate(281.05 323.54) scale(1.1490 1.0807)" font-size="10" fill="#000" stroke="#000" stroke-width="0.108">0.2</text>
</svg>
</body></html>
